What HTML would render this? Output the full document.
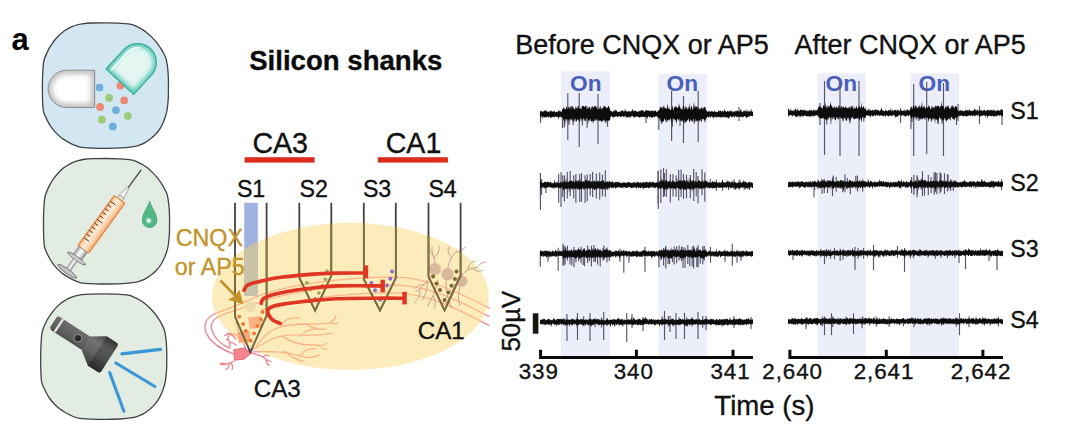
<!DOCTYPE html>
<html>
<head>
<meta charset="utf-8">
<title>Figure panel a</title>
<style>
  html, body { margin: 0; padding: 0; background: #ffffff; }
  body { width: 1080px; height: 437px; overflow: hidden; font-family: "Liberation Sans", sans-serif; }
  svg { display: block; }
  text { font-family: "Liberation Sans", sans-serif; fill: #111; stroke: #111; stroke-width: 0.35px; }
  .ttl { font-size: 27px; }
  .tick { font-size: 22.4px; letter-spacing: 0.9px; text-anchor: middle; }
  .slab { font-size: 23.2px; }
  .on { font-size: 22.7px; font-weight: bold; fill: #4a5ebc; stroke: none; }
  .shk { font-size: 22px; text-anchor: middle; }
  .gold { font-size: 23.3px; fill: #c4942c; stroke: #c4942c; }
</style>
</head>
<body>
<svg width="1080" height="437" viewBox="0 0 1080 437">
<defs>
  <linearGradient id="gWhite" x1="0" y1="0" x2="0" y2="1">
    <stop offset="0" stop-color="#bdbdbd"/>
    <stop offset="0.18" stop-color="#f4f4f4"/>
    <stop offset="0.5" stop-color="#ffffff"/>
    <stop offset="0.82" stop-color="#ececec"/>
    <stop offset="1" stop-color="#a9a9a9"/>
  </linearGradient>
  <radialGradient id="gWhiteEnd" cx="0.55" cy="0.5" r="0.6">
    <stop offset="0" stop-color="#ffffff"/>
    <stop offset="0.7" stop-color="#f1f1f1"/>
    <stop offset="1" stop-color="#b5b5b5"/>
  </radialGradient>
  <linearGradient id="gTeal" x1="0" y1="0" x2="1" y2="0">
    <stop offset="0" stop-color="#8fdccb"/>
    <stop offset="0.2" stop-color="#d9f3ee"/>
    <stop offset="0.55" stop-color="#e4f6f2"/>
    <stop offset="0.85" stop-color="#a5e2d5"/>
    <stop offset="1" stop-color="#45b9a3"/>
  </linearGradient>
  <linearGradient id="gBarrel" x1="0" y1="0" x2="1" y2="0">
    <stop offset="0" stop-color="#f3a868"/>
    <stop offset="0.14" stop-color="#f9cba0"/>
    <stop offset="0.36" stop-color="#fdecda"/>
    <stop offset="0.66" stop-color="#fbdabb"/>
    <stop offset="0.88" stop-color="#f7bc8a"/>
    <stop offset="1" stop-color="#f0a060"/>
  </linearGradient>
  <linearGradient id="gSilver" x1="0" y1="0" x2="1" y2="0">
    <stop offset="0" stop-color="#9c9c9c"/>
    <stop offset="0.4" stop-color="#ffffff"/>
    <stop offset="0.62" stop-color="#e6e6e6"/>
    <stop offset="1" stop-color="#8c8c8c"/>
  </linearGradient>
  <linearGradient id="gTorch" x1="0" y1="0" x2="0" y2="1">
    <stop offset="0" stop-color="#3d3d3d"/>
    <stop offset="0.3" stop-color="#6b6b6b"/>
    <stop offset="0.6" stop-color="#5c5c5c"/>
    <stop offset="1" stop-color="#2f2f2f"/>
  </linearGradient>
  <radialGradient id="gDrop" cx="0.45" cy="0.7" r="0.5">
    <stop offset="0" stop-color="#8fdcb4"/>
    <stop offset="0.35" stop-color="#4dba88"/>
    <stop offset="1" stop-color="#3fae7c"/>
  </radialGradient>
  <filter id="blur2" x="-20%" y="-20%" width="140%" height="140%"><feGaussianBlur stdDeviation="2"/></filter>
  <filter id="blurT" x="-2%" y="-30%" width="104%" height="160%"><feGaussianBlur stdDeviation="0.42"/></filter>
  <radialGradient id="gHi" cx="0.5" cy="0.5" r="0.5"><stop offset="0" stop-color="#ffffff" stop-opacity="1"/><stop offset="0.35" stop-color="#ffffff" stop-opacity="0.85"/><stop offset="1" stop-color="#ffffff" stop-opacity="0"/></radialGradient>
  <filter id="blur3" x="-20%" y="-20%" width="140%" height="140%"><feGaussianBlur stdDeviation="2.8"/></filter>
</defs>

<!-- ======= panel letter ======= -->
<text x="11.4" y="49.6" style="font-size:31px;font-weight:bold;fill:#000;stroke:none">a</text>

<!-- ======= icon boxes ======= -->
<g id="icons">
<path d="M92,23 C95.8,22.8 100.7,22.8 105,22.8 C109.3,22.8 113.8,22.9 118,23.1 C122.2,23.3 127.1,23.6 130,24.1 C132.9,24.6 133.7,25.2 135.5,25.9 C137.3,26.7 139.2,27.6 141,28.7 C142.8,29.8 144.7,30.9 146.5,32.4 C148.3,33.9 150.3,35.7 152,37.4 C153.7,39.1 155.1,40.7 156.5,42.4 C157.9,44.1 159,45.7 160.2,47.5 C161.3,49.3 162.4,51 163.4,53 C164.4,55 165.5,56.7 166.2,59.4 C166.9,62.1 167.4,65.7 167.8,69 C168.1,72.3 168.3,75.8 168.4,79 C168.5,82.2 168.5,84.8 168.4,88 C168.4,91.2 168.5,94.3 168.3,98 C168.1,101.7 167.5,107.1 167.1,110 C166.6,112.9 166.3,113.5 165.7,115.5 C165.1,117.5 164.3,119.8 163.4,121.9 C162.5,124 161.5,126.2 160.2,128.3 C158.9,130.4 157.2,132.6 155.6,134.3 C154,136.1 152.4,137.4 150.6,138.8 C148.8,140.2 146.5,141.9 144.6,142.9 C142.7,144 141,144.6 139.2,145.2 C137.4,145.8 136.6,146.1 133.7,146.6 C130.8,147.1 126.3,147.6 122,147.9 C117.7,148.2 112.8,148.3 108,148.3 C103.2,148.3 97.7,148.3 93,148.1 C88.3,147.9 83.5,147.8 80,147.1 C76.5,146.4 74.2,145.1 72,144.1 C69.8,143.1 68.3,142.2 66.5,141.1 C64.7,140 62.8,138.9 61,137.5 C59.3,136.1 57.6,134.6 56,132.9 C54.4,131.2 52.8,129.3 51.4,127.4 C50,125.5 48.9,123.4 47.8,121.4 C46.7,119.4 45.8,117.4 45,115.5 C44.2,113.6 43.6,112.9 43.2,110 C42.8,107.1 42.6,102.2 42.5,98 C42.4,93.8 42.4,89.3 42.4,85 C42.4,80.7 42.5,76.2 42.8,72 C43.1,67.8 43,63.9 44.1,60 C45.2,56.1 47.5,51.5 49.1,48.4 C50.8,45.3 52.2,43.6 53.7,41.5 C55.2,39.4 56.8,37.6 58.3,36 C59.8,34.4 61.4,33.1 62.9,31.9 C64.4,30.7 66,29.8 67.5,28.9 C69,28 70.5,27.2 72,26.6 C73.5,26 74.9,25.5 76.6,25 C78.3,24.5 79.4,24.1 82,23.8 C84.6,23.5 88.2,23.2 92,23Z" fill="#d3e7f3" stroke="#414243" stroke-width="1.3"/>
<path d="M93.1,158.7 C96.9,158.5 101.8,158.5 106.1,158.5 C110.4,158.5 114.9,158.6 119.1,158.8 C123.3,159 128.2,159.3 131.1,159.8 C134,160.3 134.8,160.9 136.6,161.6 C138.4,162.4 140.3,163.3 142.1,164.4 C143.9,165.5 145.8,166.6 147.6,168.1 C149.4,169.6 151.4,171.4 153.1,173.1 C154.8,174.8 156.2,176.4 157.6,178.1 C159,179.8 160.1,181.4 161.3,183.2 C162.4,185 163.5,186.7 164.5,188.7 C165.5,190.7 166.6,192.4 167.3,195.1 C168,197.8 168.5,201.4 168.8,204.7 C169.2,208 169.4,211.5 169.5,214.7 C169.6,217.9 169.6,220.5 169.5,223.7 C169.5,226.9 169.6,230 169.4,233.7 C169.2,237.4 168.6,242.8 168.2,245.7 C167.7,248.6 167.4,249.2 166.8,251.2 C166.2,253.2 165.4,255.5 164.5,257.6 C163.6,259.7 162.6,261.9 161.3,264 C160,266.1 158.3,268.2 156.7,270 C155.1,271.8 153.5,273.1 151.7,274.5 C149.9,275.9 147.6,277.6 145.7,278.6 C143.8,279.7 142.1,280.3 140.3,280.9 C138.5,281.5 137.7,281.8 134.8,282.3 C131.9,282.7 127.4,283.3 123.1,283.6 C118.8,283.9 113.9,284 109.1,284 C104.3,284 98.8,284 94.1,283.8 C89.4,283.6 84.6,283.5 81.1,282.8 C77.6,282.1 75.3,280.8 73.1,279.8 C70.8,278.8 69.4,277.9 67.6,276.8 C65.8,275.7 63.9,274.6 62.1,273.2 C60.4,271.8 58.7,270.3 57.1,268.6 C55.5,266.9 53.9,265 52.5,263.1 C51.1,261.2 50,259.1 48.9,257.1 C47.8,255.1 46.9,253.1 46.1,251.2 C45.3,249.3 44.7,248.6 44.3,245.7 C43.9,242.8 43.7,237.9 43.6,233.7 C43.5,229.5 43.5,225 43.5,220.7 C43.5,216.4 43.6,211.9 43.9,207.7 C44.2,203.5 44.1,199.6 45.2,195.7 C46.3,191.8 48.6,187.2 50.2,184.1 C51.9,181 53.3,179.3 54.8,177.2 C56.3,175.1 57.9,173.3 59.4,171.7 C60.9,170.1 62.5,168.8 64,167.6 C65.5,166.4 67.1,165.5 68.6,164.6 C70.1,163.7 71.6,162.9 73.1,162.3 C74.6,161.6 76,161.2 77.7,160.7 C79.4,160.2 80.5,159.8 83.1,159.5 C85.7,159.2 89.3,158.9 93.1,158.7Z" fill="#e3ece3" stroke="#414243" stroke-width="1.3"/>
<path d="M90.3,294.1 C94.1,293.9 99,293.9 103.3,293.9 C107.6,293.9 112.1,294 116.3,294.2 C120.5,294.4 125.4,294.7 128.3,295.2 C131.2,295.7 132,296.3 133.8,297.1 C135.6,297.8 137.5,298.7 139.3,299.8 C141.1,300.9 143,302.1 144.8,303.5 C146.6,304.9 148.6,306.8 150.3,308.5 C152,310.2 153.4,311.8 154.8,313.5 C156.2,315.2 157.3,316.8 158.5,318.6 C159.7,320.4 160.7,322.1 161.7,324.1 C162.7,326.1 163.8,327.8 164.5,330.5 C165.2,333.2 165.7,336.8 166.1,340.1 C166.4,343.4 166.6,346.9 166.7,350.1 C166.8,353.3 166.8,355.9 166.8,359.1 C166.7,362.3 166.8,365.4 166.6,369.1 C166.4,372.8 165.8,378.2 165.4,381.1 C164.9,384 164.6,384.6 164,386.6 C163.4,388.6 162.6,390.9 161.7,393 C160.8,395.1 159.8,397.3 158.5,399.4 C157.2,401.5 155.5,403.7 153.9,405.4 C152.3,407.2 150.7,408.5 148.9,409.9 C147.1,411.3 144.8,413 142.9,414.1 C141,415.1 139.3,415.7 137.5,416.3 C135.7,416.9 134.9,417.3 132,417.7 C129.1,418.2 124.6,418.7 120.3,419 C116,419.3 111.1,419.4 106.3,419.4 C101.5,419.4 96,419.4 91.3,419.2 C86.6,419 81.8,418.9 78.3,418.2 C74.8,417.5 72.5,416.2 70.3,415.2 C68,414.2 66.6,413.3 64.8,412.2 C63,411.1 61.1,410 59.3,408.6 C57.6,407.2 55.9,405.7 54.3,404 C52.7,402.3 51.1,400.4 49.7,398.5 C48.3,396.6 47.2,394.5 46.1,392.5 C45,390.5 44.1,388.5 43.3,386.6 C42.5,384.7 41.9,384 41.5,381.1 C41.1,378.2 40.9,373.3 40.8,369.1 C40.7,364.9 40.6,360.4 40.7,356.1 C40.7,351.8 40.8,347.3 41.1,343.1 C41.4,338.9 41.3,335 42.4,331.1 C43.5,327.2 45.8,322.6 47.4,319.5 C49,316.4 50.5,314.7 52,312.6 C53.5,310.5 55.1,308.7 56.6,307.1 C58.1,305.5 59.7,304.2 61.2,303 C62.7,301.8 64.3,300.9 65.8,300 C67.3,299.1 68.8,298.4 70.3,297.7 C71.8,297.1 73.2,296.6 74.9,296.1 C76.6,295.6 77.7,295.2 80.3,294.9 C82.9,294.6 86.5,294.3 90.3,294.1Z" fill="#e3ece3" stroke="#414243" stroke-width="1.3"/>
<circle cx="99.5" cy="87.6" r="3.9" fill="#6fb0de"/>
<circle cx="120.4" cy="85.5" r="3.9" fill="#ec8a74"/>
<circle cx="109" cy="98" r="3.9" fill="#9ccb7a"/>
<circle cx="124.2" cy="100.4" r="3.9" fill="#ec8a74"/>
<circle cx="100.1" cy="107" r="3.9" fill="#ec8a74"/>
<circle cx="115.9" cy="110.2" r="3.9" fill="#6fb0de"/>
<circle cx="127.8" cy="115.8" r="3.9" fill="#9ccb7a"/>
<circle cx="101.9" cy="119.7" r="3.9" fill="#9ccb7a"/>
<circle cx="112.9" cy="126.5" r="3.9" fill="#6fb0de"/>
<clipPath id="cpW"><path d="M94.7,70.2 H66.75 A18.65,18.65 0 0 0 66.75,107.5 H94.7 Z"/></clipPath>
<path d="M94.7,70.2 H66.75 A18.65,18.65 0 0 0 66.75,107.5 H94.7 Z" fill="#ffffff"/>
<g clip-path="url(#cpW)"><path d="M94.7,70.2 H66.75 A18.65,18.65 0 0 0 66.75,107.5 H94.7 Z" fill="none" stroke="#c2c2c2" stroke-width="8" filter="url(#blur3)"/></g>
<path d="M94.7,70.2 H66.75 A18.65,18.65 0 0 0 66.75,107.5 H94.7 Z" fill="none" stroke="#8c8c8c" stroke-width="1"/>
<g transform="translate(119.9,81.7) rotate(42.5)"><clipPath id="cpT"><path d="M-18.8,0 V-26.2 A18.8,18.8 0 0 1 18.8,-26.2 V0 Z"/></clipPath><path d="M-18.8,0 V-26.2 A18.8,18.8 0 0 1 18.8,-26.2 V0 Z" fill="#e3f6f2"/><g clip-path="url(#cpT)"><path d="M-18.8,0 V-26.2 A18.8,18.8 0 0 1 18.8,-26.2 V0 Z" fill="none" stroke="#5cc8b4" stroke-width="6.5" filter="url(#blur2)"/></g><path d="M-18.8,0 V-26.2 A18.8,18.8 0 0 1 18.8,-26.2 V0 Z" fill="none" stroke="#35ad97" stroke-width="1.2"/><path d="M-14.2,-3 V-27 A14.2,15 0 0 1 -8.5,-38.5" fill="none" stroke="#ffffff" stroke-width="1.7" opacity="0.8" stroke-linecap="round"/></g>
<g transform="translate(104.35,220.35) rotate(36.1)">
<path d="M0,-62.8 V-39" stroke="#4a4644" stroke-width="1.3" fill="none"/>
<path d="M-0.9,-40.5 L-2.8,-29.5 H2.8 L0.9,-40.5 Z" fill="#f4f4f4" stroke="#8d8d8d" stroke-width="0.7"/>
<path d="M-3,-29.6 h6 v3.8 h-6 z" fill="#e2e2e2" stroke="#8d8d8d" stroke-width="0.6"/>
<rect x="-6.6" y="-26" width="13.2" height="62" rx="1.2" fill="url(#gBarrel)" stroke="#e5823a" stroke-width="1.1"/>
<path d="M-6.2,-19 h6.2 M-6.2,-14.5 h4.2 M-6.2,-10 h4.2 M-6.2,-5.5 h4.2 M-6.2,-1 h4.2 M-6.2,3.5 h6.2 M-6.2,8 h4.2 M-6.2,12.5 h4.2 M-6.2,17 h4.2 M-6.2,21.5 h4.2 M-6.2,26 h6.2 " stroke="#2e2a28" stroke-width="0.85" fill="none"/>
<rect x="-5.2" y="36" width="10.4" height="9.6" fill="url(#gSilver)" stroke="#8a8a8a" stroke-width="0.7"/>
<ellipse cx="0" cy="47.2" rx="10.9" ry="1.9" fill="#cdcdcd" stroke="#777" stroke-width="0.9"/>
<rect x="-2.4" y="49" width="4.8" height="12.5" fill="url(#gSilver)" stroke="#8a8a8a" stroke-width="0.6"/>
<ellipse cx="0" cy="63" rx="11.4" ry="2.2" fill="#c4c4c4" stroke="#707070" stroke-width="0.9"/>
</g>
<path d="M149.6,201 C151.2,207.5 156.9,213.5 156.9,220.3 A7.3,7.3 0 0 1 142.3,220.3 C142.3,213.5 148,207.5 149.6,201 Z" fill="#52b986" stroke="#3fa277" stroke-width="0.8"/>
<circle cx="148.7" cy="220.6" r="3.4" fill="url(#gHi)"/>
<g transform="translate(54.15,322.1) rotate(32.8)">
<path d="M2,-7.4 H38 L52,-16.6 H63.3 Q66.3,-16.6 66.3,-13.6 V15.4 Q66.3,18.4 63.3,18.4 H52 L38,8.4 H2 Q-0.6,7.8 -0.6,5.4 V-4.8 Q-0.6,-7.4 2,-7.4 Z" fill="url(#gTorch)"/>
<path d="M52,-16.6 H63.3 Q66.3,-16.6 66.3,-13.6 V15.4 Q66.3,18.4 63.3,18.4 H52 Z" fill="#000" opacity="0.16"/>
<path d="M38,-7.4 L52,-16.6 V18.4 L38,8.4 Z" fill="#fff" opacity="0.05"/>
<rect x="4.7" y="-7.4" width="2.3" height="15.4" fill="#e6e6e6"/>
<circle cx="28.7" cy="0.7" r="3.7" fill="#2b2629" stroke="#9a9a9a" stroke-width="0.9"/>
</g>
<path d="M121.8,353.9 L160.5,349.4 M115.8,363 L154.9,386.5 M109.6,372.4 L123.9,411.3" stroke="#3b97d6" stroke-width="3.1" stroke-linecap="round" fill="none"/>

</g>

<!-- ======= schematic ======= -->
<g id="schematic">
<text x="249.2" y="69.7" style="font-size:27.6px;font-weight:bold;fill:#0b0b0b">Silicon shanks</text>
<text x="252.4" y="153.4" style="font-size:28.6px">CA3</text>
<text x="385.7" y="153.4" style="font-size:28.6px">CA1</text>
<rect x="244.6" y="157.2" width="70" height="5.4" fill="#dc2c1c"/>
<rect x="377.9" y="157.2" width="70" height="5.4" fill="#dc2c1c"/>
<text x="236.9" y="196.6" style="font-size:23.2px">S1</text>
<text x="299.6" y="196.6" style="font-size:23.2px">S2</text>
<text x="362.9" y="196.6" style="font-size:23.2px">S3</text>
<text x="428.4" y="196.6" style="font-size:23.2px">S4</text>
<clipPath id="cpE"><ellipse cx="350.5" cy="296.4" rx="138.5" ry="73.6"/></clipPath>
<ellipse cx="350.5" cy="296.4" rx="138.5" ry="73.6" fill="#fdecbb"/>
<path d="M234,354 C222,350 209,342 205.5,331 C203,321 210,314.5 222,311 C236,306.5 248,300 262,294.5 C290,285 340,277 396,277 C430,278 462,294 489,308 M230,348.5 C222,345 214,338 211.5,329 C210,321 216,316.5 226,313.5 C240,309 254,304 268,299.5 C300,290 345,285 396,285 C430,286 462,302 489,316.5 M262,310 C300,298 350,292.5 396,293 C430,294 462,311 489,325.5 M224.7,335.7 c3,-3 6,-3 9,-1 m-6,-1.5 c1,3 1,5 -1,7 m3,-6 c3,1 5,3 6,5 M229,347 c2,-3 1,-6 -1,-8 m1,4 c3,-1 5,0 7,2 M234,361 C230,363 226,365 221,364.5 M229,363.5 c0,3 -1,5 -3,6 M226,364.8 c-2,-2 -4,-2 -6,-1 M231,362.6 c2,3 2,5 1,7 M251,353 C256,354.5 260,355 263,357 C266,359 268,361 271,361.5 M263,357 c2,-2 4,-2 6,-1 M266,359 c0,3 1,5 3,6.5 M252,350 C262,345 270,338 282,336 C296,333 312,338 332,333 M282,336 C290,342 300,346 318,345 M300,336 C306,330 314,328 322,329 M318,345 c4,1 7,0 9,-2 M318,345 c3,3 6,4 9,4 M252,352 C268,351 284,351 300,356 C308,358.5 314,358 319,355 M284,351 C290,356 296,360 304,361.5 M300,356 C304,350 310,348 316,349 M256,347 C262,338 268,331 280,327 C292,323 310,325 330,323 M280,327 C284,319 292,317 300,318 M306,324 C312,328 318,330 326,329 M330,323 c3,-2 5,-4 6,-7 M330,323 c3,1 6,1 8,0 M246,349 C242,340 238,332 236,322 M241,338 c-3,-3 -6,-4 -9,-4 " fill="none" stroke="#f0808c" stroke-width="1.25" stroke-linecap="round"/>
<g clip-path="url(#cpE)"><path d="M234,354 C222,350 209,342 205.5,331 C203,321 210,314.5 222,311 C236,306.5 248,300 262,294.5 C290,285 340,277 396,277 C430,278 462,294 489,308 M230,348.5 C222,345 214,338 211.5,329 C210,321 216,316.5 226,313.5 C240,309 254,304 268,299.5 C300,290 345,285 396,285 C430,286 462,302 489,316.5 M262,310 C300,298 350,292.5 396,293 C430,294 462,311 489,325.5 M224.7,335.7 c3,-3 6,-3 9,-1 m-6,-1.5 c1,3 1,5 -1,7 m3,-6 c3,1 5,3 6,5 M229,347 c2,-3 1,-6 -1,-8 m1,4 c3,-1 5,0 7,2 M234,361 C230,363 226,365 221,364.5 M229,363.5 c0,3 -1,5 -3,6 M226,364.8 c-2,-2 -4,-2 -6,-1 M231,362.6 c2,3 2,5 1,7 M251,353 C256,354.5 260,355 263,357 C266,359 268,361 271,361.5 M263,357 c2,-2 4,-2 6,-1 M266,359 c0,3 1,5 3,6.5 M252,350 C262,345 270,338 282,336 C296,333 312,338 332,333 M282,336 C290,342 300,346 318,345 M300,336 C306,330 314,328 322,329 M318,345 c4,1 7,0 9,-2 M318,345 c3,3 6,4 9,4 M252,352 C268,351 284,351 300,356 C308,358.5 314,358 319,355 M284,351 C290,356 296,360 304,361.5 M300,356 C304,350 310,348 316,349 M256,347 C262,338 268,331 280,327 C292,323 310,325 330,323 M280,327 C284,319 292,317 300,318 M306,324 C312,328 318,330 326,329 M330,323 c3,-2 5,-4 6,-7 M330,323 c3,1 6,1 8,0 M246,349 C242,340 238,332 236,322 M241,338 c-3,-3 -6,-4 -9,-4 " fill="none" stroke="#fdecbb" stroke-width="1.9" stroke-linecap="round"/><path d="M234,354 C222,350 209,342 205.5,331 C203,321 210,314.5 222,311 C236,306.5 248,300 262,294.5 C290,285 340,277 396,277 C430,278 462,294 489,308 M230,348.5 C222,345 214,338 211.5,329 C210,321 216,316.5 226,313.5 C240,309 254,304 268,299.5 C300,290 345,285 396,285 C430,286 462,302 489,316.5 M262,310 C300,298 350,292.5 396,293 C430,294 462,311 489,325.5 M224.7,335.7 c3,-3 6,-3 9,-1 m-6,-1.5 c1,3 1,5 -1,7 m3,-6 c3,1 5,3 6,5 M229,347 c2,-3 1,-6 -1,-8 m1,4 c3,-1 5,0 7,2 M234,361 C230,363 226,365 221,364.5 M229,363.5 c0,3 -1,5 -3,6 M226,364.8 c-2,-2 -4,-2 -6,-1 M231,362.6 c2,3 2,5 1,7 M251,353 C256,354.5 260,355 263,357 C266,359 268,361 271,361.5 M263,357 c2,-2 4,-2 6,-1 M266,359 c0,3 1,5 3,6.5 M252,350 C262,345 270,338 282,336 C296,333 312,338 332,333 M282,336 C290,342 300,346 318,345 M300,336 C306,330 314,328 322,329 M318,345 c4,1 7,0 9,-2 M318,345 c3,3 6,4 9,4 M252,352 C268,351 284,351 300,356 C308,358.5 314,358 319,355 M284,351 C290,356 296,360 304,361.5 M300,356 C304,350 310,348 316,349 M256,347 C262,338 268,331 280,327 C292,323 310,325 330,323 M280,327 C284,319 292,317 300,318 M306,324 C312,328 318,330 326,329 M330,323 c3,-2 5,-4 6,-7 M330,323 c3,1 6,1 8,0 M246,349 C242,340 238,332 236,322 M241,338 c-3,-3 -6,-4 -9,-4 " fill="none" stroke="#f8ae80" stroke-width="1.05" stroke-linecap="round"/></g>
<rect x="244.2" y="202.8" width="13.6" height="93" fill="#a0b2e2"/>
<g clip-path="url(#cpE)"><rect x="244.2" y="202.8" width="13.6" height="93" fill="#c9c2a6"/></g>
<circle cx="250.6" cy="306.3" r="5.8" fill="#ecdcae"/>
<rect x="248.8" y="316.6" width="12.6" height="11.6" fill="#f9b284" transform="rotate(-8 255 322)"/>
<rect x="238" y="331.3" width="12" height="11" fill="#f8a878" transform="rotate(-6 244 337)"/>
<circle cx="239.2" cy="316.6" r="1.9" fill="#f0782e"/>
<circle cx="243.1" cy="324" r="1.9" fill="#f0782e"/>
<circle cx="262.6" cy="312" r="1.9" fill="#f0782e"/>
<circle cx="261" cy="319.4" r="1.9" fill="#f0782e"/>
<circle cx="257.3" cy="325.8" r="1.9" fill="#f0782e"/>
<circle cx="245.8" cy="330.8" r="1.9" fill="#f0782e"/>
<circle cx="254.1" cy="333.4" r="1.9" fill="#f0782e"/>
<circle cx="250.6" cy="340.7" r="1.9" fill="#f0782e"/>
<path d="M233.9,349.8 L244.2,348 L251.3,352.8 L244.4,359 L234.4,360.2 Z" fill="#f5848e" stroke="#ea6474" stroke-width="1" stroke-linejoin="round"/>
<path d="M435,263 C434,256 431,252 432,247 M433,255 C429,252 428,249 428,246 M434,258 C438,254 440,250 439,246 M448,268 C449,260 452,256 456,252 M452,258 C448,254 447,250 449,247 M456,252 C460,252 463,250 465,247 M462,275 C466,270 470,268 476,268 M468,270 C468,265 471,262 475,261 M472,268 C476,272 480,272 483,270 M476,268 C480,264 482,262 486,262 M432,275 C426,282 422,288 416,292 M424,285 C420,284 417,286 414,289 M427,281 C428,288 426,294 422,300 M420,290 C420,296 418,300 414,303 M438,280 C436,290 432,298 428,306 M433,296 C436,300 436,304 434,308 M446,281 C446,292 448,300 452,308 M448,296 C444,300 442,304 442,308 M460,287 C458,294 458,300 460,306 M455,284 C452,292 450,298 446,304" fill="none" stroke="#c9a08e" stroke-width="1" stroke-linecap="round"/>
<circle cx="434.8" cy="269.1" r="6.2" fill="#dab89c"/>
<circle cx="447.6" cy="274.3" r="6.2" fill="#dab89c"/>
<circle cx="461.8" cy="281.2" r="5.7" fill="#dab89c"/>
<path d="M235,202.8 V316.6 L250.3,352.2 L266.6,315.5 V202.8 M299.3,202.8 V277.6 L315.1,310.6 L331.3,275.6 V202.8 M363.8,202.8 V279.2 L380,310.5 L395.8,278 V202.8 M428.5,202.8 V276.6 L444.6,310.4 L460.6,275.5 V202.8" fill="none" stroke="#46423f" stroke-width="1.8" stroke-linejoin="miter"/>
<g clip-path="url(#cpE)"><path d="M235,202.8 V316.6 L250.3,352.2 L266.6,315.5 V202.8 M299.3,202.8 V277.6 L315.1,310.6 L331.3,275.6 V202.8 M363.8,202.8 V279.2 L380,310.5 L395.8,278 V202.8 M428.5,202.8 V276.6 L444.6,310.4 L460.6,275.5 V202.8" fill="none" stroke="#83733a" stroke-width="1.6"/></g>
<circle cx="327" cy="271" r="1.8" fill="#a0a556"/>
<circle cx="325.4" cy="279.3" r="1.8" fill="#a0a556"/>
<circle cx="306.9" cy="282.8" r="1.8" fill="#a0a556"/>
<circle cx="322.3" cy="285.9" r="1.8" fill="#a0a556"/>
<circle cx="310.6" cy="289.6" r="1.8" fill="#a0a556"/>
<circle cx="318.8" cy="293.1" r="1.8" fill="#a0a556"/>
<circle cx="315.1" cy="298.6" r="1.8" fill="#a0a556"/>
<circle cx="392" cy="271.6" r="2" fill="#8f6fce"/>
<circle cx="390.3" cy="278.7" r="2" fill="#8f6fce"/>
<circle cx="371.4" cy="283" r="2" fill="#8f6fce"/>
<circle cx="387" cy="285.6" r="2" fill="#8f6fce"/>
<circle cx="375" cy="290.2" r="2" fill="#8f6fce"/>
<circle cx="380" cy="299.8" r="2" fill="#8f6fce"/>
<circle cx="456.5" cy="271.4" r="2" fill="#7d6a2a"/>
<circle cx="433.2" cy="276.6" r="2" fill="#7d6a2a"/>
<circle cx="454.9" cy="278.9" r="2" fill="#7d6a2a"/>
<circle cx="436.6" cy="283.5" r="2" fill="#7d6a2a"/>
<circle cx="451.5" cy="285.8" r="2" fill="#7d6a2a"/>
<circle cx="440" cy="289.9" r="2" fill="#7d6a2a"/>
<circle cx="448.5" cy="292.6" r="2" fill="#7d6a2a"/>
<circle cx="444.6" cy="300" r="2" fill="#7d6a2a"/>
<path d="M244,290.3 C244.5,289.5 245.3,286.8 247,285.5 C248.7,284.2 251.2,283.6 254,282.8 C256.8,282 260.4,281.3 264,280.5 C267.6,279.7 270.2,278.8 275.6,278 C281,277.2 289.3,276.3 296.2,275.6 C303.1,274.9 309.9,274.3 316.8,273.9 C323.7,273.5 329.1,273.2 337.3,273.1 C345.5,273 361.2,273 366,273 M261.2,303.4 C261.4,302.8 261.6,301 262.3,300 C263,299 263.3,298.4 265.5,297.4 C267.7,296.4 270.5,295.3 275.6,294.1 C280.7,292.9 289.3,291.1 296.2,290 C303.1,288.9 309.9,288.2 316.8,287.5 C323.7,286.8 330.1,286.2 337.3,285.9 C344.5,285.6 352.5,285.8 360,285.8 C367.5,285.8 378.8,285.9 382.5,285.9 M280.1,323.3 C278.8,322.7 274.6,321.6 272.5,319.8 C270.4,318 268.2,314.7 267.8,312.6 C267.4,310.6 268.1,308.9 270.4,307.5 C272.7,306.1 275.8,305.4 281.8,304.4 C287.8,303.4 297.2,302.2 306.5,301.3 C315.8,300.4 325.9,299.3 337.3,298.8 C348.7,298.3 363.9,298.3 375,298.2 C386.1,298.1 399.2,298.2 404,298.2" fill="none" stroke="#e03522" stroke-width="3.6" stroke-linecap="round"/>
<rect x="364" y="265.4" width="4.2" height="13" fill="#e03522"/>
<rect x="380.5" y="279.7" width="4.4" height="12.6" fill="#e03522"/>
<rect x="402.3" y="291.8" width="4.5" height="12.6" fill="#e03522"/>
<text x="175.7" y="245.9" class="gold">CNQX</text>
<text x="174.8" y="274.5" class="gold">or AP5</text>
<path d="M220.5,280.5 L236,296.5" stroke="#c4942c" stroke-width="2.6" fill="none"/>
<path d="M243.3,304.2 L227.8,299.8 L234.6,296 L239.6,290 Z" fill="#c4942c"/>
<text x="417.7" y="339.4" style="font-size:24.2px">CA1</text>
<text x="253.7" y="396.9" style="font-size:24.2px">CA3</text>

</g>

<!-- ======= recordings ======= -->
<g id="rec">
  <text class="ttl" x="515.2" y="54.4">Before CNQX or AP5</text>
  <text class="ttl" x="794.6" y="54.4">After CNQX or AP5</text>

  <!-- light-on shading -->
  <rect x="561" y="71.4" width="49" height="284.6" fill="#eceffa"/>
  <rect x="658.6" y="74" width="48.8" height="282" fill="#eceffa"/>
  <rect x="817.3" y="73.3" width="48.4" height="282.7" fill="#eceffa"/>
  <rect x="910.1" y="73.3" width="48.8" height="282.7" fill="#eceffa"/>

  <text class="on" x="570" y="91">On</text>
  <text class="on" x="666.5" y="91">On</text>
  <text class="on" x="825.5" y="91">On</text>
  <text class="on" x="918.5" y="91">On</text>

<g filter="url(#blurT)">
<path d="M567.8,93 V140 M579.2,93 V147 M598,94 V144 M671.6,91 V141 M683.5,96 V143 M698.2,91 V142 M564.3,107.8 V127.4 M569.1,108 V124.7 M573.1,108 V125 M579.6,109.6 V122.4 M582.4,106.8 V125.5 M587.1,106.1 V127.7 M593.6,107.5 V121.3 M596.6,107.9 V120.5 M601.9,109 V120.2 M607.5,108.2 V126.7 M661.5,107.4 V124 M666.7,108.2 V122.2 M672.4,106 V126.7 M676.4,108.7 V121.8 M680,109.7 V126.1 M685.1,106.6 V123.1 M691.5,106.6 V120 M694.2,106.4 V123.8 M701.2,108.4 V120.6 M705,106.9 V122.2 M540.5,111 V123 M646,111 V123 M658.8,110 V130 M562.5,110 V128 M739,107 V121 " stroke="#56566a" stroke-width="1.15" fill="none"/>
<path d="M540,112 540.5,111.2 541,112.1 541.5,110.6 542,111.8 542.5,112.3 543,110.6 543.5,111.4 544,111.9 544.5,110.5 545,110.1 545.5,110.7 546,110.5 546.5,110.4 547,112.3 547.5,112 548,111.5 548.5,111.2 549,112.3 549.5,111.5 550,110.6 550.5,111.2 551,111.7 551.5,110.6 552,110.5 552.5,112.2 553,111.2 553.5,111.1 554,112.3 554.5,110.4 555,111.8 555.5,112.3 556,112.1 556.5,112 557,110.7 557.5,112.3 558,112.1 558.5,109.2 559,112 559.5,110.8 560,110.6 560.5,111.5 561,112.2 561.5,111.7 562,110.7 562.5,108.9 563,108.7 563.5,106.9 564,109.4 564.5,109.9 565,108.8 565.5,109.4 566,108.7 566.5,105.8 567,108 567.5,110 568,106.6 568.5,108.7 569,105.6 569.5,109.9 570,106.5 570.5,106.5 571,110 571.5,105.8 572,106.3 572.5,107.3 573,105.5 573.5,109.2 574,108.5 574.5,109.1 575,110.2 575.5,107.4 576,105.8 576.5,109.3 577,107 577.5,108.8 578,105.5 578.5,105.7 579,108.8 579.5,108.7 580,109.2 580.5,107.6 581,108.9 581.5,109.6 582,105.7 582.5,106.3 583,105.8 583.5,105.9 584,106.4 584.5,107 585,106.8 585.5,105.6 586,106.2 586.5,109.1 587,107.5 587.5,109.8 588,108.4 588.5,107.8 589,107 589.5,108 590,105.9 590.5,110.1 591,109.6 591.5,106.9 592,106.7 592.5,105.6 593,109.3 593.5,107 594,106.9 594.5,106.4 595,105.6 595.5,107.1 596,105.6 596.5,109.6 597,105.6 597.5,109.8 598,110.4 598.5,107.3 599,109 599.5,109.1 600,105.6 600.5,106.6 601,109.8 601.5,107.7 602,109.7 602.5,107.9 603,108.2 603.5,106.5 604,105.2 604.5,107.4 605,105.5 605.5,106.7 606,107.3 606.5,108.4 607,107.5 607.5,107.9 608,107.3 608.5,105.7 609,106.3 609.5,108.2 610,109.1 610.5,111.2 611,110.9 611.5,110.8 612,111.9 612.5,112.2 613,111.2 613.5,110.7 614,111.8 614.5,110.4 615,108.8 615.5,110.9 616,110.6 616.5,110.2 617,111 617.5,112 618,111.8 618.5,112.1 619,111.9 619.5,111.9 620,110.2 620.5,112.1 621,111.2 621.5,110.5 622,110.7 622.5,110.1 623,111.6 623.5,111.5 624,110.3 624.5,112.2 625,108.3 625.5,110.5 626,112.1 626.5,110.8 627,110.9 627.5,112.2 628,111 628.5,111.6 629,111.4 629.5,110.7 630,112 630.5,112.2 631,110 631.5,111.4 632,110.4 632.5,108.5 633,110.7 633.5,110.5 634,111.8 634.5,110.6 635,110.9 635.5,110.5 636,110.5 636.5,111.2 637,112.3 637.5,111.7 638,111.2 638.5,111.6 639,111.3 639.5,110.5 640,112 640.5,110.6 641,110.2 641.5,110.1 642,110.8 642.5,109.9 643,111.1 643.5,110.9 644,110.4 644.5,112.3 645,111.7 645.5,110.3 646,110.2 646.5,110.1 647,110.6 647.5,110.4 648,110.4 648.5,110.8 649,110.4 649.5,111.1 650,110.5 650.5,111.7 651,111.1 651.5,110.1 652,111.4 652.5,110.3 653,111.3 653.5,111.3 654,110.1 654.5,111.8 655,110.1 655.5,110.8 656,110.7 656.5,112.1 657,112.3 657.5,111.5 658,111 658.5,111.6 659,109.9 659.5,110 660,106.1 660.5,108.4 661,105.9 661.5,108.5 662,108.3 662.5,107.9 663,106.6 663.5,105.5 664,109 664.5,106.2 665,108.3 665.5,107.4 666,109.6 666.5,109 667,108.7 667.5,102.7 668,107 668.5,108.8 669,109.7 669.5,106.9 670,109.4 670.5,110.3 671,110 671.5,108.7 672,108.7 672.5,107 673,109.9 673.5,110.2 674,107.2 674.5,107.8 675,106.4 675.5,106.1 676,107.8 676.5,105.9 677,107.9 677.5,107.7 678,108 678.5,107.1 679,102.5 679.5,107 680,106 680.5,108.7 681,108.5 681.5,109 682,110.3 682.5,108.5 683,106.5 683.5,105 684,107.9 684.5,109.8 685,109 685.5,106.4 686,109.2 686.5,106.5 687,108.7 687.5,110.1 688,106.3 688.5,107.8 689,109.5 689.5,102.6 690,108.5 690.5,109.9 691,106.5 691.5,106.5 692,107.7 692.5,109.6 693,110 693.5,106.4 694,101.6 694.5,107.2 695,108.4 695.5,105.9 696,106.5 696.5,107.5 697,105.7 697.5,107.1 698,109.8 698.5,107.2 699,110.3 699.5,108.3 700,108.8 700.5,108.3 701,109.4 701.5,107.6 702,106.8 702.5,108.6 703,109.7 703.5,107.7 704,107.5 704.5,107.3 705,106.7 705.5,109.7 706,109.5 706.5,110.6 707,111.6 707.5,111.9 708,111 708.5,112.2 709,110.2 709.5,110.9 710,112.1 710.5,111.5 711,111.8 711.5,110.6 712,111.7 712.5,111.2 713,111.4 713.5,112.1 714,111.9 714.5,110.3 715,111.4 715.5,111.9 716,111.5 716.5,112.2 717,112 717.5,112.3 718,111.5 718.5,110.9 719,110.2 719.5,111.4 720,111 720.5,110.6 721,110.6 721.5,112.3 722,111.1 722.5,110.9 723,110.5 723.5,111.9 724,111.6 724.5,108.3 725,110.9 725.5,111.1 726,112 726.5,111.7 727,111.7 727.5,110.4 728,111.6 728.5,111.4 729,111.6 729.5,111 730,110.2 730.5,111 731,112.2 731.5,110.7 732,110.1 732.5,112.3 733,112.3 733.5,111.2 734,111.9 734.5,110.3 735,112.3 735.5,110.2 736,112.2 736.5,110.2 737,111.2 737.5,110.4 738,110.8 738.5,111 739,112.2 739.5,111.4 740,110.9 740.5,110.1 741,108.7 741.5,111 742,112.2 742.5,112.1 743,111.8 743.5,110.6 744,111.7 744.5,110.4 745,111 745.5,111.5 746,108.7 746.5,111.7 747,111.5 747.5,111.6 748,109.4 748.5,112.2 749,110.7 749.5,111.5 750,111.2 750.5,112.2 751,108.3 751.5,110.2 752,111.9 752.5,111.8 753,111.1 753,116.7 752.5,116.1 752,116.3 751.5,115.7 751,115.8 750.5,115.7 750,115.9 749.5,116.2 749,117.3 748.5,116.8 748,116.3 747.5,117 747,116.9 746.5,118.4 746,117.6 745.5,116.1 745,117 744.5,115.8 744,116.6 743.5,116.8 743,117.8 742.5,117.2 742,115.9 741.5,117.4 741,116.3 740.5,117.4 740,116.5 739.5,117.2 739,116.7 738.5,116.2 738,116.8 737.5,116.7 737,116.7 736.5,117.5 736,116.6 735.5,116.6 735,115.9 734.5,118.2 734,116.1 733.5,116.5 733,116.8 732.5,117.4 732,115.7 731.5,117.4 731,117.8 730.5,115.9 730,116.1 729.5,117.1 729,119.3 728.5,118 728,117.7 727.5,117.8 727,116.7 726.5,117.3 726,117.8 725.5,116.9 725,117.5 724.5,117 724,116.8 723.5,117.7 723,115.7 722.5,117.6 722,117.1 721.5,117.7 721,116.9 720.5,117.4 720,117.6 719.5,117 719,116.9 718.5,116.5 718,117.9 717.5,116.8 717,116 716.5,117.7 716,117.6 715.5,116.8 715,116.6 714.5,117 714,117.5 713.5,118.7 713,116.3 712.5,117.6 712,117.1 711.5,116.5 711,115.7 710.5,117.7 710,117.7 709.5,116.2 709,117.1 708.5,117.5 708,117 707.5,116.7 707,116.9 706.5,119 706,118.1 705.5,120.3 705,119.5 704.5,120.4 704,120.4 703.5,118.6 703,118.9 702.5,119 702,119.3 701.5,121.8 701,121.7 700.5,118.5 700,120.3 699.5,120.6 699,122.4 698.5,120 698,120.8 697.5,120.3 697,121.2 696.5,120.2 696,122.3 695.5,120.9 695,117.7 694.5,121.3 694,122.3 693.5,119.1 693,118.5 692.5,122.8 692,120.5 691.5,121.2 691,119.9 690.5,119.3 690,121.8 689.5,122.5 689,120.8 688.5,117.9 688,119.8 687.5,119.8 687,120.9 686.5,122.2 686,120.4 685.5,121.7 685,122.5 684.5,118.3 684,125.4 683.5,120.6 683,120.6 682.5,120.4 682,122.3 681.5,120.9 681,119.8 680.5,122 680,118.7 679.5,118.4 679,121 678.5,120.3 678,119.6 677.5,118.9 677,118.5 676.5,124.8 676,120.4 675.5,119.6 675,120.8 674.5,119.2 674,118.8 673.5,118.3 673,122.3 672.5,117.8 672,118.3 671.5,124.6 671,118.7 670.5,117.7 670,120.4 669.5,120.4 669,118.9 668.5,120.1 668,120.8 667.5,120.3 667,120.6 666.5,118.7 666,119.7 665.5,122.4 665,118.3 664.5,118.8 664,120.3 663.5,120.9 663,122.5 662.5,122.1 662,122 661.5,122.1 661,118.2 660.5,120.9 660,121.5 659.5,118.1 659,117.6 658.5,117.8 658,117.9 657.5,117.3 657,116.2 656.5,115.9 656,116.8 655.5,116.6 655,116.2 654.5,117.6 654,116.6 653.5,116.4 653,117.4 652.5,117.7 652,117.8 651.5,117.3 651,117.8 650.5,116.3 650,117.8 649.5,116.9 649,117.3 648.5,115.7 648,116.7 647.5,119.5 647,116.8 646.5,116.2 646,117.4 645.5,116.6 645,117.7 644.5,116.5 644,117.1 643.5,116.8 643,116.2 642.5,117.3 642,116.9 641.5,116.8 641,117.1 640.5,117.2 640,116.8 639.5,117.7 639,117.7 638.5,116.4 638,116.8 637.5,116.4 637,117.5 636.5,115.9 636,116.3 635.5,117.2 635,116.7 634.5,117.8 634,116.9 633.5,117.6 633,116.4 632.5,115.8 632,115.7 631.5,115.9 631,117.9 630.5,115.9 630,117.7 629.5,117.3 629,117.1 628.5,116.6 628,116.9 627.5,117.8 627,117.8 626.5,117.6 626,115.7 625.5,115.7 625,117.7 624.5,116.5 624,115.7 623.5,117.6 623,116.5 622.5,115.8 622,116.4 621.5,116.7 621,116.5 620.5,117.2 620,117 619.5,115.7 619,115.8 618.5,116.5 618,117.3 617.5,117.3 617,116.2 616.5,116.6 616,116.1 615.5,116.4 615,117.5 614.5,116.4 614,116.9 613.5,117.5 613,117.3 612.5,117.5 612,116.1 611.5,116.6 611,115.7 610.5,117.3 610,120.1 609.5,120.5 609,120.6 608.5,121.5 608,119.6 607.5,121.3 607,121.3 606.5,119.7 606,124 605.5,122.5 605,119.9 604.5,122 604,118.6 603.5,121 603,119.9 602.5,122.6 602,120.1 601.5,122.4 601,121.6 600.5,120.5 600,120.3 599.5,121 599,120.3 598.5,120.6 598,121.3 597.5,119.1 597,118.2 596.5,119.2 596,119.5 595.5,121.1 595,118.3 594.5,120.7 594,121.2 593.5,121.2 593,124.3 592.5,120.5 592,120.6 591.5,121.8 591,121.4 590.5,118 590,122.2 589.5,118.7 589,121.3 588.5,120.1 588,124.7 587.5,118.9 587,117.9 586.5,117.8 586,119.9 585.5,121.6 585,120.9 584.5,118.5 584,122.1 583.5,117.8 583,119.1 582.5,119.2 582,118.5 581.5,120.1 581,121.6 580.5,118 580,117.7 579.5,120.3 579,121.8 578.5,119.6 578,119.8 577.5,118.8 577,120.9 576.5,120.7 576,122.4 575.5,119.9 575,117.7 574.5,120 574,122.4 573.5,121.3 573,119.7 572.5,122 572,117.7 571.5,119.9 571,119 570.5,119.5 570,121.7 569.5,117.8 569,122 568.5,119.1 568,120.6 567.5,118.5 567,122.5 566.5,119.3 566,118.7 565.5,119.3 565,126.7 564.5,120.9 564,121 563.5,120.1 563,117.7 562.5,116.4 562,118.1 561.5,117.6 561,116.3 560.5,116.9 560,116.8 559.5,116.9 559,117.3 558.5,119.6 558,117.7 557.5,116.5 557,116.7 556.5,116.8 556,117.1 555.5,115.7 555,117.5 554.5,117.4 554,116.2 553.5,117.1 553,116.7 552.5,117.6 552,116.8 551.5,117.5 551,118.6 550.5,117.8 550,116.9 549.5,116 549,117.2 548.5,118.1 548,116.6 547.5,116.9 547,116.2 546.5,117.6 546,117.2 545.5,117.3 545,117.6 544.5,116.9 544,118.3 543.5,116.8 543,116.6 542.5,116.9 542,120 541.5,115.7 541,115.7 540.5,116.7 540,117.6Z" fill="#080808"/>
<path d="M558.7,173.7 V202.7 M562.7,175.2 V197 M564.4,175.6 V201.4 M567.3,172.1 V198.6 M570.2,170.9 V196 M573.8,175.2 V198.4 M575.9,174.1 V202.8 M579.7,173.9 V202.1 M581.5,173.2 V201.8 M585.1,175.3 V202.9 M587.2,174.2 V201.2 M590.2,173.9 V195.6 M592.6,171.9 V196.9 M596.3,173.4 V198.6 M599.7,172.6 V199.6 M602.4,174.7 V196.2 M605.3,170.3 V197 M657.9,170.8 V203.5 M660.8,169.3 V202.9 M664.4,173 V195.9 M666.3,169.3 V197.1 M670.3,174.2 V202.4 M673,173.9 V196.6 M676.1,175.5 V197.1 M678.7,170 V200.5 M681.1,169.6 V196.8 M683.5,174.1 V199 M686.5,174.8 V198.3 M690.3,175.1 V198.3 M693.7,169.1 V200.9 M696.2,171.9 V196.3 M698,175.9 V203.2 M702,169.3 V195.2 M704.8,172.6 V201.6 M540.4,173 V210 M541.6,179 V195 M546,182 V193 M561,172 V207 M658.3,171 V209 M663.5,168 V197 M710.2,179 V188.2 M716.4,179.8 V190.7 M722.5,179.9 V190.4 M728.6,180.9 V190.1 M734.1,179.4 V189.3 M739.2,179.4 V189.7 M744.2,180.9 V189.7 M749.6,181.8 V189.9 " stroke="#56566a" stroke-width="1.15" fill="none"/>
<path d="M540,179.3 540.5,181.7 541,182.2 541.5,182.6 542,181.5 542.5,183.4 543,182.7 543.5,183 544,182.4 544.5,181.6 545,181.9 545.5,181.4 546,182.5 546.5,182.4 547,181.6 547.5,181.9 548,182 548.5,181.5 549,182.4 549.5,182.8 550,182.2 550.5,181.6 551,182.1 551.5,183.2 552,183 552.5,183.4 553,182.3 553.5,183.4 554,183.1 554.5,179.2 555,182.2 555.5,183.4 556,181.6 556.5,182.5 557,183.2 557.5,182.2 558,181.4 558.5,183.4 559,183.4 559.5,182.4 560,183 560.5,182.1 561,181.1 561.5,182.6 562,183.3 562.5,182 563,182.4 563.5,181.5 564,181.5 564.5,180.4 565,181 565.5,182.7 566,177.4 566.5,181.6 567,182.6 567.5,182.6 568,181.6 568.5,182.4 569,180.9 569.5,180.8 570,181.7 570.5,181.2 571,180 571.5,181.3 572,180 572.5,181.7 573,182.6 573.5,180.9 574,180.8 574.5,182.5 575,182.5 575.5,180.1 576,179.8 576.5,181.5 577,182.3 577.5,180.7 578,179.9 578.5,180.5 579,181.6 579.5,182.8 580,178.4 580.5,180.6 581,182.5 581.5,180.6 582,182.4 582.5,181.1 583,182.6 583.5,180.8 584,181.8 584.5,182.6 585,180.4 585.5,180.2 586,179.2 586.5,179.9 587,181.5 587.5,181.3 588,180.3 588.5,180.8 589,180.9 589.5,180.4 590,181.4 590.5,182.5 591,181.8 591.5,181.5 592,181.5 592.5,182.5 593,181.7 593.5,180.4 594,181.8 594.5,180.7 595,180.2 595.5,181.9 596,181.6 596.5,181.4 597,182.4 597.5,180 598,181.2 598.5,181.9 599,180 599.5,182 600,182.1 600.5,181.7 601,180.2 601.5,181.2 602,181 602.5,181.4 603,181 603.5,179.8 604,181.2 604.5,182.4 605,182.6 605.5,182.5 606,180.8 606.5,182.7 607,181.1 607.5,182.2 608,180.8 608.5,182.4 609,182.6 609.5,180.7 610,181 610.5,182.1 611,182.6 611.5,181.8 612,181.9 612.5,180.2 613,183 613.5,182.1 614,183.4 614.5,182.2 615,182.1 615.5,181.4 616,183 616.5,181.6 617,181.9 617.5,182 618,182.8 618.5,181.5 619,181.8 619.5,182.5 620,183.1 620.5,183.1 621,182.2 621.5,182.8 622,183.4 622.5,182.8 623,182.5 623.5,182.2 624,182.7 624.5,182.1 625,183.1 625.5,183 626,182 626.5,183.3 627,182.6 627.5,182.5 628,182.3 628.5,182 629,182.4 629.5,181.8 630,183 630.5,183.2 631,182.1 631.5,183.3 632,182.8 632.5,182.7 633,183.2 633.5,182.1 634,181.4 634.5,183.4 635,181.6 635.5,182.5 636,183.4 636.5,182 637,182.9 637.5,181.6 638,181.8 638.5,182.4 639,182.4 639.5,183.2 640,181.4 640.5,182.5 641,183.1 641.5,183.4 642,182.3 642.5,182.6 643,181.5 643.5,182.8 644,182.3 644.5,182.7 645,182.3 645.5,181.9 646,181.9 646.5,182.2 647,181.4 647.5,182 648,183.2 648.5,182.4 649,181.5 649.5,181.8 650,182.6 650.5,181.5 651,183.1 651.5,182.2 652,182.2 652.5,182 653,181.6 653.5,182.3 654,182.8 654.5,182.5 655,183 655.5,183 656,182.2 656.5,182.4 657,182.7 657.5,181.5 658,183.2 658.5,183.3 659,180.7 659.5,182.2 660,179.9 660.5,181.4 661,181.3 661.5,177.6 662,182.2 662.5,179.3 663,180.4 663.5,180.9 664,180.7 664.5,182.5 665,179.9 665.5,179.9 666,182.7 666.5,180.2 667,179.9 667.5,182.6 668,180.3 668.5,182.3 669,181.2 669.5,180.5 670,182.2 670.5,180.3 671,181.8 671.5,182.7 672,180.5 672.5,180.1 673,182.3 673.5,181.2 674,181.4 674.5,181.8 675,182 675.5,182.4 676,182.3 676.5,181.5 677,177.5 677.5,181.7 678,182 678.5,180.4 679,180.3 679.5,180.4 680,181.1 680.5,180 681,180.3 681.5,182.3 682,179.8 682.5,181.3 683,180.4 683.5,180.8 684,181.1 684.5,179.8 685,180 685.5,182 686,180.9 686.5,180.5 687,179.9 687.5,182.7 688,178.2 688.5,181.5 689,182.4 689.5,182.3 690,176.8 690.5,179.9 691,180 691.5,182.5 692,180.3 692.5,181.3 693,180 693.5,180.8 694,180.1 694.5,182.7 695,182.2 695.5,180.1 696,180.9 696.5,182.2 697,182.5 697.5,181.9 698,180.8 698.5,179.8 699,181.4 699.5,179.9 700,180.9 700.5,182.1 701,181 701.5,181.7 702,181.8 702.5,179.2 703,182.7 703.5,180 704,182.7 704.5,181 705,180.6 705.5,180.3 706,181.6 706.5,181.4 707,180.2 707.5,182.1 708,182.2 708.5,182.8 709,181.9 709.5,182.6 710,182.9 710.5,182.2 711,182.4 711.5,182.5 712,182 712.5,180.4 713,182.4 713.5,181.9 714,181.6 714.5,181.6 715,182.6 715.5,182.1 716,181.7 716.5,183.1 717,182.6 717.5,182.9 718,181.7 718.5,182.4 719,183.4 719.5,182.3 720,181.7 720.5,183.2 721,182.8 721.5,182.1 722,182.1 722.5,179.3 723,183 723.5,181.8 724,182.2 724.5,182.9 725,181.9 725.5,182.8 726,181.9 726.5,182.2 727,179.3 727.5,182.1 728,181.6 728.5,183.2 729,181.7 729.5,181.8 730,182.2 730.5,182.6 731,182.6 731.5,182.6 732,179.5 732.5,182.3 733,181.7 733.5,183.4 734,181.8 734.5,181.8 735,181.6 735.5,183.1 736,182 736.5,183.2 737,182.9 737.5,182.6 738,183.2 738.5,182 739,183 739.5,182 740,182.9 740.5,179.4 741,183.1 741.5,183 742,182.4 742.5,181.7 743,182.5 743.5,179.4 744,182.3 744.5,182.4 745,182.1 745.5,181.8 746,181.7 746.5,182.3 747,182.8 747.5,183.4 748,182.4 748.5,182.3 749,181.9 749.5,182.1 750,181.8 750.5,183.1 751,183.3 751.5,182 752,182 752.5,183.2 753,183 753,188 752.5,187.7 752,188.3 751.5,187 751,186.6 750.5,188 750,186.6 749.5,188 749,188.4 748.5,187.3 748,190.4 747.5,187.7 747,187.8 746.5,188.2 746,188.6 745.5,188 745,189.8 744.5,187.1 744,186.9 743.5,187.5 743,187.9 742.5,187 742,187.7 741.5,187 741,188.6 740.5,187.9 740,187.1 739.5,188.4 739,188.4 738.5,188.3 738,187.7 737.5,187.4 737,188.6 736.5,187.4 736,190.4 735.5,188.2 735,190.4 734.5,187.1 734,187.4 733.5,188.2 733,186.6 732.5,187.9 732,188.2 731.5,187.5 731,188.1 730.5,188.6 730,187.7 729.5,187.1 729,187.1 728.5,188 728,187.3 727.5,187 727,187.1 726.5,188.4 726,188.5 725.5,186.5 725,188 724.5,187.1 724,187.4 723.5,187.6 723,187.8 722.5,188 722,186.7 721.5,187.4 721,188.2 720.5,187.7 720,186.9 719.5,188.3 719,187.4 718.5,187.6 718,188.5 717.5,186.5 717,187.7 716.5,187.6 716,188.5 715.5,187.9 715,187.4 714.5,188.1 714,188.3 713.5,188.4 713,187.4 712.5,188.4 712,188.4 711.5,187.4 711,187.9 710.5,187 710,187.8 709.5,188.3 709,188.4 708.5,186.7 708,188.3 707.5,188.6 707,186.6 706.5,187.5 706,187.7 705.5,187.4 705,187.7 704.5,189.1 704,187.5 703.5,189.5 703,187.5 702.5,188.2 702,188.1 701.5,189.2 701,188.6 700.5,189.1 700,187.5 699.5,189.1 699,189.2 698.5,187.3 698,188.1 697.5,187.5 697,188.7 696.5,187.6 696,188 695.5,187.2 695,189.2 694.5,188 694,189.9 693.5,189.2 693,189.9 692.5,188 692,192.2 691.5,187.2 691,189.9 690.5,189.2 690,188.9 689.5,189.6 689,189.3 688.5,187.9 688,189.8 687.5,188.3 687,189.1 686.5,187.8 686,190.4 685.5,189.9 685,188.9 684.5,189.4 684,189.9 683.5,189.6 683,187.6 682.5,189.9 682,188.5 681.5,187.9 681,188.7 680.5,189.9 680,190.1 679.5,188.1 679,189.5 678.5,188.1 678,188 677.5,188.1 677,187.8 676.5,187.2 676,187.7 675.5,190.1 675,188.9 674.5,188.4 674,188.4 673.5,188.1 673,189.2 672.5,187.5 672,187.9 671.5,189.3 671,187.8 670.5,188.2 670,188.5 669.5,187.9 669,187.5 668.5,188.1 668,189.9 667.5,189.1 667,189.2 666.5,189.5 666,187.3 665.5,189.4 665,190.1 664.5,189.5 664,190 663.5,189.6 663,187.7 662.5,187.8 662,188.5 661.5,188.1 661,187.4 660.5,190.1 660,187.7 659.5,188.5 659,188.8 658.5,188.2 658,188.2 657.5,188.3 657,186.9 656.5,186.9 656,187 655.5,188.2 655,188.3 654.5,187.1 654,188.3 653.5,187 653,188.6 652.5,186.6 652,186.6 651.5,187.4 651,188.3 650.5,187.3 650,186.6 649.5,188.4 649,187.7 648.5,188.6 648,187.9 647.5,187.3 647,187.4 646.5,187.9 646,187.9 645.5,187.4 645,187.7 644.5,188.3 644,188 643.5,188.3 643,190.2 642.5,187.1 642,187.1 641.5,188 641,187.8 640.5,188.5 640,187.7 639.5,187.4 639,187.6 638.5,188.4 638,186.9 637.5,186.8 637,188.2 636.5,188.5 636,187.8 635.5,187.4 635,186.7 634.5,188 634,186.6 633.5,188.2 633,188.2 632.5,187.3 632,187.9 631.5,187.9 631,188.5 630.5,187.2 630,186.6 629.5,187.8 629,186.8 628.5,186.7 628,188.3 627.5,187.3 627,187.5 626.5,187.9 626,187.6 625.5,188 625,187.2 624.5,187.6 624,186.7 623.5,186.8 623,188.9 622.5,187.1 622,188.4 621.5,187 621,187.9 620.5,187.8 620,187.5 619.5,187.1 619,187.5 618.5,187 618,187.7 617.5,187.1 617,187.5 616.5,187.7 616,188.3 615.5,188.4 615,187.7 614.5,186.6 614,188.2 613.5,188.1 613,186.9 612.5,187.9 612,188.6 611.5,187.7 611,187.4 610.5,187 610,187.2 609.5,189.4 609,187.8 608.5,187.5 608,189.8 607.5,190 607,187.6 606.5,189.9 606,187.5 605.5,188.3 605,190 604.5,190 604,187.3 603.5,189.7 603,189 602.5,189.1 602,188.4 601.5,189.7 601,188.5 600.5,189.5 600,187.9 599.5,188.5 599,187.5 598.5,189.1 598,187.9 597.5,189.8 597,187.3 596.5,189.9 596,187.7 595.5,189.1 595,190 594.5,190 594,189.8 593.5,189.1 593,188.3 592.5,187.9 592,189.1 591.5,188.1 591,187.4 590.5,189.7 590,187.9 589.5,189.1 589,188.4 588.5,188.4 588,188.1 587.5,188.8 587,189.8 586.5,188.3 586,188.1 585.5,187.6 585,188.4 584.5,189.5 584,189.8 583.5,189.5 583,187.2 582.5,188.6 582,189 581.5,189 581,189.6 580.5,189 580,189.6 579.5,188.6 579,189.2 578.5,189.8 578,188.2 577.5,190 577,188.7 576.5,187.3 576,189.5 575.5,188.6 575,188.7 574.5,188.8 574,189.2 573.5,187.6 573,187.5 572.5,190.2 572,189 571.5,188 571,189.7 570.5,188.6 570,188.6 569.5,189.5 569,193.1 568.5,187.6 568,188.6 567.5,189.5 567,188.1 566.5,188.7 566,189.2 565.5,189.3 565,188.1 564.5,188.3 564,188.8 563.5,191 563,189.4 562.5,187.9 562,186.9 561.5,186.8 561,189.2 560.5,188.2 560,187.5 559.5,188.6 559,186.9 558.5,189.3 558,187.1 557.5,187.4 557,187.5 556.5,187 556,188.1 555.5,187.5 555,188.1 554.5,186.9 554,189.8 553.5,187.1 553,188.5 552.5,187.3 552,188.4 551.5,187.6 551,187.1 550.5,188.1 550,186.7 549.5,187 549,187.6 548.5,187.2 548,186.9 547.5,187.6 547,187.5 546.5,188.3 546,187.7 545.5,186.9 545,188.2 544.5,188.2 544,188.6 543.5,186.6 543,188.4 542.5,186.6 542,187.7 541.5,187.4 541,187.8 540.5,188.1 540,188.5Z" fill="#080808"/>
<path d="M563.7,245.5 V265.6 M565.1,246.4 V264.4 M567.4,245.8 V260.5 M570,250.6 V264.6 M571.8,249.4 V265.4 M574,247.1 V267.2 M575.9,250.7 V262.2 M578.6,249.6 V261.2 M581.1,246.8 V263.3 M583.2,248.8 V265.1 M584.5,248.2 V266.2 M587.6,245.5 V262.9 M589.4,248.9 V260.9 M591.4,245.8 V266.6 M593.9,245.1 V262 M595.4,248.1 V262 M597.6,248.3 V264.8 M600.2,248.9 V266.5 M603,248.1 V260.4 M603.9,245.6 V260.1 M607,247.4 V262.3 M609.3,250.7 V260.9 M659,250.7 V267.3 M660.9,250 V260.2 M663.6,248.1 V265.5 M665.8,246 V268.4 M668.1,249.6 V264.1 M669.6,250.7 V264 M672.5,249.7 V262.3 M674.2,246.6 V264.5 M676.7,246.3 V263.3 M679.1,245.4 V260.6 M681.5,246.5 V261 M683,247 V268 M685.1,247.4 V267.7 M687.8,245.1 V264 M689.8,249.6 V266.3 M692.2,247 V266.3 M693.6,245.4 V268.6 M696.8,247.6 V266.9 M698.1,245.3 V267.5 M700.3,250.3 V263.8 M702.8,246.2 V264.2 M704.3,245.9 V260.4 M540.3,251.8 V266.8 M548,250.8 V261.8 M558.2,247.8 V270.8 M563,243.8 V265.8 M620,248.8 V261.8 M623.8,249.8 V272.8 M629,250.8 V262.8 M645,246.8 V271.8 M710.5,246.8 V262.8 M725,249.8 V261.8 M732.3,243.8 V265.8 M737,249.8 V262.8 M741,250.8 V260.8 " stroke="#56566a" stroke-width="1.15" fill="none"/>
<path d="M540,251.8 540.5,249.4 541,251.8 541.5,250.6 542,251 542.5,251 543,251.7 543.5,250.9 544,251.5 544.5,250.5 545,250.4 545.5,251.3 546,251.1 546.5,250.6 547,250.6 547.5,250.9 548,251.7 548.5,252.1 549,251.7 549.5,251.1 550,250.5 550.5,251.7 551,251.9 551.5,252.2 552,250.5 552.5,251 553,250.4 553.5,251.8 554,251.2 554.5,252.3 555,251 555.5,249.1 556,250.9 556.5,251.1 557,251.6 557.5,250.8 558,251.7 558.5,251.9 559,251.7 559.5,250.6 560,250.5 560.5,251.2 561,251.9 561.5,250.7 562,250.7 562.5,251.1 563,251.9 563.5,250.5 564,249.6 564.5,250.9 565,250 565.5,249.1 566,246.4 566.5,251.2 567,250.5 567.5,251 568,250.7 568.5,251.2 569,249.4 569.5,251.6 570,250.5 570.5,251.6 571,248.9 571.5,250.8 572,250 572.5,251.4 573,251.5 573.5,249.5 574,250.5 574.5,250.5 575,250.2 575.5,250.5 576,249.2 576.5,251.4 577,249.5 577.5,250 578,249.5 578.5,246.4 579,251.4 579.5,249 580,249.5 580.5,249.6 581,250.1 581.5,251 582,250.7 582.5,251.5 583,249.6 583.5,249.8 584,249.2 584.5,249.1 585,251.2 585.5,250.8 586,250.9 586.5,250 587,250.3 587.5,250.8 588,250.3 588.5,249.4 589,249.3 589.5,250.4 590,249.8 590.5,251.2 591,249.3 591.5,250.8 592,251.4 592.5,247.8 593,250.5 593.5,249 594,250.9 594.5,249.1 595,249.5 595.5,249.8 596,249 596.5,250.3 597,250.1 597.5,251.2 598,249.1 598.5,250 599,250.8 599.5,249.6 600,251 600.5,250.3 601,250.8 601.5,250.7 602,251.4 602.5,251.2 603,249.4 603.5,250.6 604,251.1 604.5,249.4 605,250.1 605.5,249.8 606,247.7 606.5,249.8 607,249.6 607.5,249.9 608,249.2 608.5,251.6 609,250.2 609.5,250.1 610,250 610.5,250.7 611,250.8 611.5,252.2 612,250.9 612.5,251.7 613,251.9 613.5,251.6 614,252.3 614.5,251.4 615,250.1 615.5,250.9 616,251.4 616.5,250.1 617,251.9 617.5,251.1 618,250.8 618.5,250.4 619,250.7 619.5,250.9 620,252.3 620.5,252.2 621,250.3 621.5,250.4 622,250.4 622.5,252.1 623,250.4 623.5,250.6 624,251.5 624.5,251.8 625,250.9 625.5,250.9 626,250.9 626.5,251 627,250.5 627.5,252.2 628,251.2 628.5,251.8 629,251.1 629.5,251.9 630,251.1 630.5,252 631,252.3 631.5,252.1 632,251.1 632.5,251.6 633,250.6 633.5,251.2 634,251.6 634.5,250.8 635,251.9 635.5,251.4 636,250.4 636.5,251.1 637,250.4 637.5,250.7 638,251.7 638.5,250.9 639,252.2 639.5,251.6 640,252.1 640.5,252 641,250.3 641.5,251.7 642,251.6 642.5,250.5 643,250.7 643.5,249.7 644,250.8 644.5,250.3 645,250 645.5,252.1 646,250.1 646.5,251 647,251.8 647.5,251.3 648,252 648.5,250.5 649,250.7 649.5,252 650,251.2 650.5,250.7 651,251.7 651.5,250.6 652,251.2 652.5,250.9 653,251.6 653.5,251 654,251.5 654.5,250.4 655,251.7 655.5,252.2 656,251.2 656.5,250.7 657,252.2 657.5,251.2 658,252 658.5,250.9 659,250.4 659.5,249.7 660,250.6 660.5,250.9 661,250.7 661.5,249 662,250.7 662.5,250.8 663,249.5 663.5,250.4 664,250 664.5,249 665,251.1 665.5,246.5 666,249.4 666.5,249.5 667,251.3 667.5,250.6 668,248.9 668.5,250.9 669,250.3 669.5,250.9 670,250.2 670.5,250.5 671,246.6 671.5,250.6 672,250.1 672.5,249.7 673,250.6 673.5,250 674,250 674.5,250.9 675,250.2 675.5,249.1 676,249.2 676.5,250.9 677,251.5 677.5,249.3 678,250.3 678.5,250.5 679,251.5 679.5,251.5 680,249.2 680.5,250 681,250.1 681.5,250.2 682,250.4 682.5,248.9 683,250.9 683.5,249.9 684,249.3 684.5,250.5 685,251.1 685.5,249.1 686,251.6 686.5,249.3 687,251.2 687.5,250.7 688,250.1 688.5,249.8 689,250.6 689.5,250.4 690,250.3 690.5,249.8 691,250.7 691.5,249.7 692,251.4 692.5,250.2 693,250 693.5,249.5 694,249.2 694.5,247 695,249.6 695.5,251 696,251.4 696.5,251.2 697,247.8 697.5,251.1 698,250.2 698.5,250.6 699,249 699.5,250.5 700,250.1 700.5,248.9 701,251.4 701.5,250.4 702,251.2 702.5,250.6 703,249.8 703.5,250.2 704,251.2 704.5,250.3 705,250.6 705.5,249.1 706,250 706.5,250.9 707,252 707.5,252.3 708,251.4 708.5,250.9 709,252 709.5,250.3 710,250.7 710.5,251.9 711,251.8 711.5,251.2 712,252.3 712.5,251.2 713,251 713.5,251.7 714,252.1 714.5,251.4 715,251.6 715.5,251.3 716,251.4 716.5,248.6 717,251.7 717.5,252 718,252.2 718.5,250.8 719,251 719.5,250.4 720,250.4 720.5,251.5 721,251.7 721.5,251.8 722,250.4 722.5,252.2 723,251.8 723.5,251.3 724,250.3 724.5,250.8 725,251.9 725.5,251 726,251.3 726.5,251.9 727,250.5 727.5,250.9 728,250.5 728.5,251.7 729,252 729.5,251.7 730,252.3 730.5,250.3 731,251.8 731.5,250.5 732,251.2 732.5,251.7 733,250.7 733.5,252 734,251.2 734.5,250.5 735,251.9 735.5,252.1 736,251 736.5,251.1 737,252 737.5,251.2 738,251.3 738.5,251.3 739,251.3 739.5,251.6 740,251.2 740.5,251.4 741,252.1 741.5,251.8 742,250.6 742.5,251.5 743,250.8 743.5,250.5 744,252.1 744.5,251 745,252.2 745.5,250.9 746,250.9 746.5,250.4 747,250.6 747.5,252 748,251.7 748.5,251.4 749,251.7 749.5,251.7 750,251.1 750.5,251.9 751,251.6 751.5,251 752,251.3 752.5,250.7 753,251.3 753,256.2 752.5,255.9 752,256.3 751.5,256.5 751,257.2 750.5,255.5 750,256.1 749.5,255.4 749,256 748.5,256.1 748,255.8 747.5,256.8 747,256.2 746.5,255.7 746,255.3 745.5,256.8 745,256.3 744.5,255.3 744,255.5 743.5,256.4 743,256.9 742.5,255.5 742,259 741.5,255.4 741,257 740.5,256.7 740,256.3 739.5,257.3 739,256.1 738.5,255.5 738,256.9 737.5,256.1 737,255.9 736.5,255.3 736,256.5 735.5,257.1 735,257.2 734.5,255.8 734,256.6 733.5,257.2 733,255.4 732.5,257 732,256.4 731.5,256 731,255.7 730.5,255.9 730,257.2 729.5,256.2 729,255.7 728.5,257 728,255.5 727.5,257.3 727,255.7 726.5,256.1 726,256.1 725.5,256.8 725,255.7 724.5,256 724,256.2 723.5,255.8 723,255.7 722.5,255.8 722,256.3 721.5,256 721,256.8 720.5,257.7 720,256.1 719.5,255.3 719,255.5 718.5,256.4 718,257.2 717.5,256.6 717,256.2 716.5,257.1 716,256.2 715.5,255.8 715,257.3 714.5,255.5 714,257.2 713.5,255.4 713,256.8 712.5,255.8 712,255.3 711.5,256.4 711,256.1 710.5,256.2 710,256.2 709.5,255.5 709,255.4 708.5,255.3 708,257.3 707.5,255.5 707,256.6 706.5,257 706,256.9 705.5,256.5 705,256 704.5,258.6 704,257.7 703.5,259.8 703,257.1 702.5,258.4 702,257.8 701.5,258.7 701,257.9 700.5,258.1 700,257.3 699.5,256.6 699,256.2 698.5,256.1 698,258.5 697.5,257.3 697,256.2 696.5,257 696,257.5 695.5,257.9 695,256.9 694.5,256.7 694,257.4 693.5,257.5 693,258.2 692.5,258.3 692,257.4 691.5,256.9 691,258.7 690.5,256.5 690,257.5 689.5,256 689,257.4 688.5,257.6 688,256.6 687.5,256.2 687,256.6 686.5,256.1 686,257.3 685.5,257 685,258.2 684.5,256.8 684,260.5 683.5,256.9 683,258.5 682.5,257.8 682,258.3 681.5,257.5 681,257.7 680.5,258.4 680,258.2 679.5,255.9 679,257.1 678.5,256.2 678,257.1 677.5,256.4 677,257.3 676.5,256.4 676,257 675.5,257.1 675,258 674.5,256 674,256.3 673.5,256.3 673,257 672.5,256.9 672,258.4 671.5,258.7 671,258.1 670.5,257.7 670,258.4 669.5,258.6 669,258 668.5,258.7 668,258.6 667.5,256.8 667,257.6 666.5,256.2 666,258.7 665.5,256.2 665,256 664.5,258.3 664,258.5 663.5,257.4 663,257.5 662.5,256 662,258.6 661.5,258.7 661,258.5 660.5,256.3 660,256.2 659.5,255.8 659,255.9 658.5,258.3 658,257.1 657.5,255.4 657,255.8 656.5,255.3 656,256.8 655.5,255.8 655,255.6 654.5,257.2 654,257 653.5,255.7 653,256.3 652.5,257.1 652,256.4 651.5,259.2 651,256.3 650.5,256.2 650,256.1 649.5,255.7 649,256.5 648.5,256.2 648,255.3 647.5,257 647,255.6 646.5,256.7 646,255.8 645.5,255.9 645,256 644.5,256.3 644,256.2 643.5,255.6 643,255.3 642.5,256.9 642,257 641.5,256.2 641,257.1 640.5,256.8 640,255.9 639.5,256.8 639,256.8 638.5,255.9 638,257.2 637.5,256.1 637,257.1 636.5,257.2 636,256.8 635.5,255.5 635,256 634.5,256.1 634,256.3 633.5,256.2 633,256.5 632.5,256.5 632,256.6 631.5,256.2 631,257.2 630.5,255.4 630,256.9 629.5,256.4 629,255.3 628.5,255.4 628,255.5 627.5,256.1 627,256.8 626.5,257.1 626,255.5 625.5,255.3 625,256.1 624.5,255.6 624,255.7 623.5,256.4 623,255.6 622.5,256.1 622,255.5 621.5,255.4 621,256.3 620.5,256.6 620,256.5 619.5,259.3 619,256.6 618.5,255.9 618,255.8 617.5,257.3 617,255.5 616.5,256.1 616,257.5 615.5,257.8 615,255.6 614.5,255.7 614,255.7 613.5,256.4 613,257.1 612.5,256.2 612,256.4 611.5,255.7 611,257.7 610.5,257.2 610,257.1 609.5,256 609,258.5 608.5,256.9 608,256.3 607.5,257.2 607,257.4 606.5,257.3 606,258 605.5,256.7 605,257.6 604.5,258.4 604,258.3 603.5,256.4 603,258 602.5,256.4 602,256.2 601.5,258.3 601,257 600.5,256.6 600,258.9 599.5,257.4 599,256.4 598.5,257.5 598,256.3 597.5,258.4 597,256.4 596.5,256.9 596,257.8 595.5,258.2 595,258 594.5,256.2 594,257.8 593.5,257 593,257.3 592.5,257.8 592,258.3 591.5,257.1 591,258.5 590.5,256.6 590,258.6 589.5,256.5 589,257 588.5,257.5 588,257.6 587.5,258.1 587,257 586.5,258.4 586,257.9 585.5,256.6 585,256.7 584.5,257.4 584,256.3 583.5,257.4 583,256.3 582.5,257.3 582,257 581.5,257.6 581,258.2 580.5,258.6 580,257.3 579.5,259.8 579,258.3 578.5,256.4 578,256 577.5,257.6 577,257.8 576.5,258.2 576,258.1 575.5,258.4 575,257.9 574.5,257.9 574,257 573.5,257 573,256.4 572.5,257.5 572,256.9 571.5,256.8 571,258.3 570.5,256.3 570,259.3 569.5,256.7 569,255.9 568.5,258.1 568,256.5 567.5,258.3 567,258.6 566.5,256.7 566,257.5 565.5,257.9 565,258.5 564.5,256.9 564,258.3 563.5,258.6 563,258.1 562.5,256.4 562,255.8 561.5,256 561,255.8 560.5,255.7 560,256.2 559.5,255.6 559,256 558.5,256.2 558,255.7 557.5,255.3 557,256.5 556.5,255.9 556,257.2 555.5,256.8 555,256.2 554.5,256.5 554,255.3 553.5,255.9 553,256.3 552.5,256.5 552,256.1 551.5,257 551,256.1 550.5,256.4 550,257.3 549.5,255.4 549,258.7 548.5,256.9 548,255.4 547.5,255.7 547,257.2 546.5,257.3 546,257.1 545.5,256.1 545,256.2 544.5,255.5 544,256.9 543.5,257.1 543,255.3 542.5,255.4 542,257 541.5,256.2 541,255.8 540.5,255.4 540,256.4Z" fill="#080808"/>
<path d="M567,314 V341 M577.5,313 V340 M590,313 V341 M603.7,312 V340 M626.7,313 V342 M632,314 V328 M643,317 V331 M664.5,311 V340 M670,316 V332 M676,313 V339 M684.5,313 V339 M698,312 V339 M706,316 V330 M734,316 V328 M751,317 V329 M566.1,318.5 V326 M572,318.6 V325.4 M577.1,316.8 V327.5 M583.7,316.2 V326.5 M590.6,318.7 V325.7 M595.1,318.1 V327.2 M601.5,317.4 V327.5 M607.2,318.1 V326.1 M662.2,316.3 V325.6 M668.3,316.1 V326.6 M673.3,318.4 V326.6 M679,317.2 V325.1 M686.7,317.5 V326.2 M692.1,317.3 V326.5 M697.7,318.8 V326.6 M702.7,316.1 V327.8 " stroke="#56566a" stroke-width="1.15" fill="none"/>
<path d="M540,320 540.5,320.4 541,319 541.5,320.2 542,318.8 542.5,319.9 543,318.7 543.5,319.5 544,318.6 544.5,318.7 545,319.5 545.5,320.2 546,320.4 546.5,319.6 547,319.7 547.5,319.8 548,318.7 548.5,319 549,319 549.5,318.7 550,320.5 550.5,319.7 551,319.9 551.5,319.7 552,320.4 552.5,319.9 553,319 553.5,317.4 554,320 554.5,318.9 555,318.8 555.5,320 556,320.5 556.5,320 557,318.6 557.5,318.7 558,319.5 558.5,318.7 559,318.9 559.5,319.2 560,318.6 560.5,319.2 561,318.6 561.5,319.2 562,320.1 562.5,318.7 563,318.7 563.5,319.2 564,318.1 564.5,319.3 565,320.2 565.5,320.5 566,319.4 566.5,320 567,320.3 567.5,319.6 568,318.7 568.5,319.7 569,320.2 569.5,319.4 570,319.9 570.5,319.5 571,319.8 571.5,319.1 572,319.6 572.5,318.9 573,319 573.5,320.3 574,318.7 574.5,319.3 575,320.2 575.5,320.5 576,318.9 576.5,319.3 577,319 577.5,319.1 578,319.9 578.5,318.7 579,319.9 579.5,319.7 580,319.7 580.5,319.1 581,319.3 581.5,318.5 582,320.3 582.5,318.7 583,319.9 583.5,319.1 584,319.5 584.5,319.9 585,319.9 585.5,319.2 586,319.4 586.5,319.5 587,320.4 587.5,319.7 588,318.4 588.5,320.5 589,318.8 589.5,319.5 590,318.5 590.5,319.7 591,320.3 591.5,319.2 592,319.2 592.5,319.9 593,318.8 593.5,319.2 594,318.5 594.5,319.5 595,320.1 595.5,319.1 596,319.5 596.5,319.3 597,319.5 597.5,319 598,319.3 598.5,319 599,318.9 599.5,320.5 600,319 600.5,319.9 601,320.5 601.5,320.2 602,320.2 602.5,319.2 603,319.8 603.5,320 604,319.9 604.5,320.4 605,320.5 605.5,320.4 606,319.3 606.5,320.1 607,318.5 607.5,319.2 608,320.2 608.5,319.8 609,320.4 609.5,319.4 610,319.8 610.5,319.8 611,320.1 611.5,319.5 612,319.7 612.5,319.8 613,318.9 613.5,319.9 614,318.5 614.5,319.3 615,319.6 615.5,320.1 616,319.2 616.5,319.4 617,319.8 617.5,318.8 618,318.7 618.5,317.3 619,318.7 619.5,319.3 620,319.6 620.5,319.9 621,318.7 621.5,318.8 622,320.4 622.5,318.8 623,318.7 623.5,320.5 624,320.3 624.5,319.5 625,319.6 625.5,319.9 626,320.3 626.5,320.2 627,319.9 627.5,319.4 628,319.5 628.5,319.4 629,319 629.5,319.9 630,320.1 630.5,319.2 631,319.8 631.5,316.4 632,320.5 632.5,320 633,319.6 633.5,317.1 634,318.5 634.5,318.5 635,320.5 635.5,319.5 636,319.7 636.5,320.5 637,319 637.5,319.2 638,320.3 638.5,318.8 639,318.7 639.5,318.7 640,319.2 640.5,319.5 641,319.7 641.5,320.5 642,319 642.5,320 643,318.5 643.5,318.6 644,319 644.5,319.2 645,317.5 645.5,316.8 646,319 646.5,317.8 647,319.6 647.5,318.9 648,320.5 648.5,320.5 649,319.3 649.5,319.2 650,318.8 650.5,319.7 651,319.7 651.5,318.7 652,319.1 652.5,320.3 653,318.8 653.5,319.4 654,320.5 654.5,319.9 655,318.9 655.5,319.7 656,320.1 656.5,319.9 657,319.4 657.5,320.1 658,318.7 658.5,320.2 659,319.1 659.5,320.2 660,320.1 660.5,320.3 661,318.9 661.5,319.1 662,320 662.5,318.7 663,318.6 663.5,319.3 664,320.2 664.5,319.2 665,319.2 665.5,319.1 666,318.7 666.5,319.5 667,320.3 667.5,319.8 668,319.7 668.5,319 669,319.8 669.5,320.2 670,320.4 670.5,319.1 671,320.5 671.5,318.6 672,318.9 672.5,318.9 673,319 673.5,320.5 674,320.4 674.5,320.3 675,320 675.5,318.9 676,320.2 676.5,319.8 677,319.5 677.5,319.9 678,319.7 678.5,319.9 679,319.8 679.5,318.5 680,319.2 680.5,318.8 681,318.7 681.5,320.3 682,319.3 682.5,318.6 683,320.2 683.5,319.4 684,319.3 684.5,319.7 685,319.9 685.5,319.4 686,319.6 686.5,320.2 687,320.2 687.5,318.6 688,319.5 688.5,319 689,319 689.5,320.2 690,318.7 690.5,319.2 691,319.5 691.5,317.5 692,319.2 692.5,319.1 693,318.6 693.5,319.7 694,319.5 694.5,319.3 695,319.8 695.5,320.1 696,319 696.5,319.6 697,319.2 697.5,320.2 698,319.4 698.5,320 699,318.9 699.5,318.6 700,319.9 700.5,320.4 701,319.5 701.5,320.1 702,320.1 702.5,319.5 703,320.5 703.5,319.4 704,319.7 704.5,319 705,319.7 705.5,318.9 706,318.6 706.5,319.4 707,318.8 707.5,318.9 708,320 708.5,320.1 709,319 709.5,320.5 710,318.5 710.5,319.1 711,319.6 711.5,318.9 712,318.8 712.5,319.3 713,320.1 713.5,318.8 714,319.3 714.5,320.5 715,320.3 715.5,320.3 716,319.1 716.5,319.3 717,318.5 717.5,320.5 718,319.3 718.5,320.4 719,319.3 719.5,319 720,318.9 720.5,320.3 721,319.1 721.5,319 722,319.8 722.5,319.8 723,319.6 723.5,318.9 724,319.5 724.5,318.7 725,319.7 725.5,319.2 726,318.6 726.5,318.7 727,319.7 727.5,318.8 728,318.5 728.5,320.2 729,319.9 729.5,319.5 730,316.5 730.5,319.9 731,318.8 731.5,320.4 732,319.4 732.5,320.1 733,319.8 733.5,318.6 734,318 734.5,319.5 735,318.9 735.5,319.2 736,319.8 736.5,318.9 737,318.6 737.5,319.9 738,319 738.5,318.9 739,318.8 739.5,318.1 740,318.7 740.5,319.5 741,318.8 741.5,318.7 742,320 742.5,319.6 743,319.8 743.5,320.2 744,318.6 744.5,320.3 745,319 745.5,320.2 746,318.7 746.5,318.8 747,319.1 747.5,319.4 748,318.5 748.5,317.8 749,319.2 749.5,320 750,319.6 750.5,319.3 751,319.4 751.5,320.2 752,318.9 752.5,319.5 753,319.6 753,324.6 752.5,324.1 752,323.6 751.5,324.5 751,324.2 750.5,324.3 750,324.3 749.5,323.8 749,324 748.5,324.7 748,323.8 747.5,324.6 747,323.5 746.5,325.4 746,325.2 745.5,323.8 745,324.8 744.5,324.5 744,324 743.5,325.2 743,325.2 742.5,325.1 742,324 741.5,324.4 741,325.4 740.5,325.4 740,324.5 739.5,325 739,323.9 738.5,325.2 738,324.9 737.5,324.1 737,325 736.5,324.5 736,323.9 735.5,325.1 735,325.1 734.5,325.2 734,324.2 733.5,324.5 733,324.7 732.5,325.3 732,324.5 731.5,324.7 731,324.1 730.5,325.5 730,323.7 729.5,324.1 729,325.1 728.5,325.2 728,325.1 727.5,325.5 727,325 726.5,324.6 726,324.9 725.5,323.7 725,325.4 724.5,324.9 724,324.9 723.5,325.5 723,325.5 722.5,324.4 722,327.2 721.5,325.4 721,323.9 720.5,324.8 720,325.3 719.5,324.8 719,325 718.5,324.9 718,326 717.5,323.9 717,324.9 716.5,325.4 716,324.6 715.5,325.1 715,325 714.5,323.7 714,325 713.5,324 713,324 712.5,323.9 712,324.6 711.5,324.8 711,325 710.5,325.4 710,323.9 709.5,324.1 709,324.8 708.5,324.1 708,324 707.5,323.8 707,325.3 706.5,324 706,325 705.5,323.7 705,323.8 704.5,325.2 704,324.7 703.5,324.7 703,323.8 702.5,325.1 702,324.5 701.5,323.9 701,325.3 700.5,324.4 700,325.2 699.5,323.7 699,324.6 698.5,325 698,323.8 697.5,324.6 697,325.1 696.5,323.8 696,324 695.5,324.3 695,324.9 694.5,324.3 694,324.6 693.5,324.5 693,324.6 692.5,324.8 692,325.1 691.5,323.6 691,325.5 690.5,324.4 690,323.8 689.5,325.5 689,325.2 688.5,323.9 688,324.1 687.5,327 687,324.8 686.5,324.6 686,326.4 685.5,325.4 685,324.8 684.5,325.2 684,324.5 683.5,324.6 683,324.2 682.5,323.6 682,323.8 681.5,324.5 681,324 680.5,325.3 680,324.5 679.5,325.4 679,323.9 678.5,324.7 678,324.6 677.5,324.8 677,324.8 676.5,324 676,325.2 675.5,324.5 675,325.3 674.5,324.6 674,324.7 673.5,324.2 673,324.9 672.5,325.3 672,325.1 671.5,323.5 671,324.3 670.5,324.1 670,326.6 669.5,324.7 669,325.1 668.5,324.9 668,323.7 667.5,324.2 667,323.6 666.5,324 666,325 665.5,324.5 665,324.1 664.5,324.3 664,324.3 663.5,324.7 663,323.7 662.5,325.3 662,323.7 661.5,325 661,324.4 660.5,323.8 660,325 659.5,326.9 659,323.9 658.5,324.5 658,323.5 657.5,325.1 657,324 656.5,323.6 656,325.3 655.5,324.6 655,325.4 654.5,325.4 654,324.3 653.5,324 653,324.6 652.5,323.8 652,324.4 651.5,325.2 651,323.6 650.5,323.9 650,324.2 649.5,323.7 649,324.9 648.5,324.5 648,323.9 647.5,323.6 647,324.9 646.5,324 646,323.8 645.5,324.1 645,323.8 644.5,324 644,325.1 643.5,325 643,325.1 642.5,324.9 642,324.1 641.5,324.9 641,325.2 640.5,325.3 640,324.8 639.5,324.2 639,324.7 638.5,324.9 638,325.3 637.5,325.3 637,325 636.5,324.1 636,323.7 635.5,325.4 635,324.2 634.5,324.2 634,324.4 633.5,324.7 633,325 632.5,325.4 632,324.8 631.5,323.6 631,325.2 630.5,324.1 630,324.5 629.5,324.1 629,325.4 628.5,323.9 628,324.8 627.5,324 627,324.2 626.5,325 626,324.8 625.5,324.2 625,323.8 624.5,324.6 624,324.8 623.5,324.1 623,327.4 622.5,325.4 622,324.3 621.5,325.2 621,324.3 620.5,324.9 620,325.2 619.5,326.1 619,323.6 618.5,324.7 618,324.7 617.5,323.9 617,324.6 616.5,325.4 616,323.8 615.5,324.1 615,327 614.5,326.3 614,324.6 613.5,324.6 613,325 612.5,325.8 612,323.8 611.5,323.6 611,325.2 610.5,327.6 610,324.9 609.5,323.9 609,323.8 608.5,325 608,324.5 607.5,325.2 607,323.6 606.5,325.4 606,324.2 605.5,324.1 605,325 604.5,325.2 604,324.6 603.5,325.2 603,324.4 602.5,325.3 602,323.7 601.5,325 601,324 600.5,324.7 600,324.3 599.5,325.3 599,324.9 598.5,325.2 598,323.6 597.5,325.1 597,323.8 596.5,324.4 596,323.5 595.5,323.7 595,323.6 594.5,324.6 594,324.2 593.5,324.9 593,325.3 592.5,325.3 592,324 591.5,327.3 591,324.7 590.5,325.2 590,324.9 589.5,324.9 589,325.2 588.5,325.4 588,324.3 587.5,324.9 587,323.8 586.5,323.8 586,324.9 585.5,325.4 585,325.3 584.5,323.7 584,324.9 583.5,324.6 583,325.4 582.5,325.1 582,324 581.5,325.3 581,323.8 580.5,324.7 580,323.5 579.5,324.3 579,324.8 578.5,324.9 578,325.4 577.5,325 577,325.4 576.5,324.5 576,325.1 575.5,323.5 575,324.8 574.5,323.7 574,324.2 573.5,323.8 573,324.2 572.5,324.7 572,325.3 571.5,324.7 571,325 570.5,323.6 570,324.6 569.5,327.3 569,323.8 568.5,325.1 568,323.9 567.5,325.2 567,324.7 566.5,324.5 566,324.3 565.5,325.2 565,324.2 564.5,324.5 564,326.1 563.5,324.2 563,324.6 562.5,323.7 562,324.4 561.5,324.6 561,324.8 560.5,323.6 560,323.6 559.5,324.9 559,324.8 558.5,325.4 558,323.7 557.5,324.8 557,324.6 556.5,327.2 556,324 555.5,325.3 555,324.3 554.5,324.3 554,325.5 553.5,323.8 553,323.6 552.5,323.7 552,323.8 551.5,327.5 551,323.9 550.5,325.4 550,324.1 549.5,325.4 549,324.4 548.5,324.7 548,323.7 547.5,325 547,323.9 546.5,324.2 546,324.8 545.5,325.4 545,324.3 544.5,324.6 544,325.2 543.5,323.8 543,323.7 542.5,324.8 542,325.1 541.5,323.7 541,323.9 540.5,324.3 540,323.7Z" fill="#080808"/>
<path d="M824.5,81 V155 M840,83 V156 M859,81 V156 M913.7,84 V156 M926.7,82 V154 M943.5,83 V156 M820.2,107.1 V118.9 M826.8,105.7 V124.3 M832.9,107.7 V119.3 M839.4,105.3 V118.9 M846,108.9 V119.4 M850,106.3 V120.3 M856.5,106.5 V118.7 M863.8,108.5 V121.6 M912.1,108.2 V121.7 M918.8,107.5 V120.9 M925.1,108.4 V119.4 M931.5,106.4 V121.7 M938.3,106.6 V124 M942,106 V123.7 M950.4,107.7 V120.2 M956.5,108.1 V125 M820,103 V125 M900.5,108 V123 M911,107 V129 M958,104 V121 M979.5,106 V124 M1002,110 V125 " stroke="#56566a" stroke-width="1.15" fill="none"/>
<path d="M788,110.1 788.5,107.9 789,109.4 789.5,110.4 790,111.4 790.5,109.7 791,108.3 791.5,110.9 792,110.8 792.5,111 793,109.5 793.5,111.1 794,111.4 794.5,109.6 795,109.9 795.5,107.8 796,109.2 796.5,111 797,109.4 797.5,110.3 798,107.7 798.5,111.2 799,110.7 799.5,110.7 800,109.9 800.5,109.3 801,110.1 801.5,110.3 802,109.6 802.5,110 803,111.1 803.5,109.2 804,110.3 804.5,110.5 805,109.3 805.5,111.2 806,110.6 806.5,110 807,110.8 807.5,110.8 808,111.4 808.5,110.4 809,110.6 809.5,110.6 810,109.3 810.5,111 811,109.9 811.5,109.7 812,110 812.5,111.3 813,110.9 813.5,108.8 814,110.7 814.5,110.4 815,109.6 815.5,110.8 816,110.6 816.5,110.2 817,109.6 817.5,110.6 818,107.9 818.5,106.7 819,106.6 819.5,107.8 820,104.9 820.5,106.7 821,107.6 821.5,108.2 822,107.4 822.5,109.5 823,105.8 823.5,104.9 824,106.5 824.5,105.9 825,108.1 825.5,101.8 826,107.4 826.5,109.5 827,106.2 827.5,107.7 828,108.1 828.5,106.3 829,105.2 829.5,107.2 830,105.7 830.5,101.5 831,104.9 831.5,105.6 832,106.2 832.5,108.8 833,106.6 833.5,109.2 834,105.4 834.5,106.7 835,109.3 835.5,107.1 836,108.3 836.5,107.1 837,106.1 837.5,109.1 838,106.7 838.5,105 839,109.3 839.5,108.5 840,105.7 840.5,108.4 841,107.7 841.5,105.7 842,106.7 842.5,109.1 843,105.3 843.5,107.3 844,107.3 844.5,107.8 845,108.3 845.5,105.7 846,107.8 846.5,107.3 847,108.2 847.5,108.6 848,107.6 848.5,107.3 849,108.8 849.5,106.5 850,109.2 850.5,106.9 851,109.1 851.5,105.1 852,107.7 852.5,105.1 853,108.7 853.5,109.1 854,105.2 854.5,109.5 855,107.8 855.5,108.1 856,109 856.5,105.7 857,108.4 857.5,108.4 858,108.6 858.5,107.5 859,105.3 859.5,107.4 860,106.1 860.5,107.7 861,108.3 861.5,101.7 862,108.9 862.5,106.6 863,108 863.5,106.1 864,106.2 864.5,109 865,108.5 865.5,109.2 866,107.6 866.5,111.3 867,110.6 867.5,110.2 868,110.6 868.5,109.6 869,107.6 869.5,111.2 870,109.7 870.5,110 871,110.3 871.5,110.7 872,110.4 872.5,109.6 873,110.2 873.5,109.9 874,111.2 874.5,109.9 875,109.8 875.5,109.3 876,109.8 876.5,109.5 877,110.5 877.5,110 878,110.6 878.5,109.8 879,110.7 879.5,111 880,111.3 880.5,109.8 881,109.4 881.5,107.1 882,110.2 882.5,110.1 883,111.3 883.5,110.7 884,110.9 884.5,111.2 885,111.1 885.5,109.8 886,109.4 886.5,111.2 887,110.6 887.5,111.2 888,111.1 888.5,110.3 889,109.8 889.5,110.4 890,110.6 890.5,109.7 891,107.5 891.5,110.9 892,111.2 892.5,110.6 893,109.6 893.5,111.4 894,110.3 894.5,110.4 895,109.3 895.5,110.6 896,109.4 896.5,111.4 897,109.6 897.5,109.8 898,110.5 898.5,110.5 899,110 899.5,111.2 900,111 900.5,110.1 901,109.4 901.5,110.8 902,111.1 902.5,111.2 903,110.6 903.5,110.9 904,109.8 904.5,111.4 905,108.3 905.5,111.3 906,110.8 906.5,110.6 907,109.3 907.5,109.4 908,110.3 908.5,110.2 909,110.3 909.5,111.3 910,109.3 910.5,108.5 911,108.7 911.5,105.4 912,108.9 912.5,109.5 913,105.4 913.5,106.1 914,105.1 914.5,109.1 915,105.3 915.5,105.5 916,108.1 916.5,105.3 917,108.3 917.5,107.9 918,106.5 918.5,106.3 919,108.8 919.5,105.3 920,105.8 920.5,108.3 921,106.6 921.5,105.9 922,101.1 922.5,107.7 923,107.6 923.5,106.1 924,108.1 924.5,105.3 925,108.5 925.5,109 926,107.3 926.5,107 927,107.5 927.5,107.5 928,107.7 928.5,105.7 929,105.1 929.5,106.8 930,108.3 930.5,108.9 931,109.1 931.5,109.1 932,108.8 932.5,105.6 933,109 933.5,106.5 934,108.2 934.5,107.6 935,106.4 935.5,105.1 936,107.5 936.5,106.1 937,105.8 937.5,105.8 938,107 938.5,104.9 939,106.5 939.5,108.2 940,106 940.5,106.1 941,107.4 941.5,101.1 942,105.9 942.5,105.7 943,105.8 943.5,106.6 944,109.4 944.5,109.2 945,106.8 945.5,108.1 946,105 946.5,107.6 947,107.4 947.5,106.3 948,105.8 948.5,105.4 949,108 949.5,108.6 950,109.1 950.5,108.2 951,109 951.5,105.6 952,106.3 952.5,106 953,105.2 953.5,107.5 954,108.1 954.5,108.5 955,106.1 955.5,105.9 956,107.1 956.5,106.5 957,107.4 957.5,109.9 958,110.5 958.5,111.2 959,110.7 959.5,111.2 960,108.9 960.5,110.8 961,110.7 961.5,110.4 962,110.5 962.5,110.7 963,111 963.5,111.2 964,111.2 964.5,111.3 965,109.9 965.5,110.1 966,110.7 966.5,110.6 967,110.6 967.5,109.8 968,111 968.5,110.8 969,108.9 969.5,110 970,110.3 970.5,110.7 971,111.3 971.5,111.3 972,109.7 972.5,111 973,111.3 973.5,109.4 974,111 974.5,107.9 975,109.6 975.5,109.4 976,110.8 976.5,111.1 977,109.3 977.5,110.1 978,110 978.5,111.1 979,111.4 979.5,110 980,111 980.5,109.9 981,110 981.5,110.4 982,110.7 982.5,110.7 983,110.7 983.5,110 984,111 984.5,108.7 985,111.1 985.5,110.6 986,110.9 986.5,110.8 987,110 987.5,109.7 988,110.3 988.5,110.6 989,109.4 989.5,110.9 990,109.8 990.5,109.8 991,110.4 991.5,109.9 992,110 992.5,111.1 993,109.3 993.5,110.5 994,110.7 994.5,110 995,110.3 995.5,111.3 996,111.3 996.5,110.8 997,110.2 997.5,109.5 998,111.1 998.5,110.6 999,110.4 999.5,111.1 1000,109.7 1000.5,109.3 1001,111.4 1001.5,107.9 1002,110.4 1002.5,109.3 1003,110.5 1003,115.7 1002.5,115.8 1002,116.6 1001.5,116.4 1001,115.2 1000.5,114.7 1000,115.8 999.5,116.3 999,114.9 998.5,115.1 998,115.3 997.5,115.4 997,116.5 996.5,116.4 996,115 995.5,116.7 995,115.7 994.5,116.5 994,116.3 993.5,116.6 993,116.3 992.5,115.7 992,115.8 991.5,116.7 991,115.8 990.5,116.3 990,115.1 989.5,115.9 989,116.1 988.5,115.9 988,116 987.5,118.9 987,116.2 986.5,115.6 986,115.2 985.5,118 985,115.5 984.5,115.2 984,115.9 983.5,114.9 983,115.2 982.5,115.8 982,115.6 981.5,115.8 981,116.1 980.5,116.2 980,116.6 979.5,115.9 979,115.3 978.5,114.6 978,116.5 977.5,115.3 977,115.7 976.5,114.8 976,114.7 975.5,115.8 975,116.4 974.5,115.7 974,115.2 973.5,116.4 973,114.8 972.5,116.7 972,115.6 971.5,115.1 971,115.7 970.5,115.9 970,116.6 969.5,115.1 969,115.2 968.5,115.9 968,115.5 967.5,116.2 967,116.5 966.5,116.3 966,116 965.5,116.4 965,115.7 964.5,115.6 964,116 963.5,116.2 963,117.1 962.5,115.4 962,114.9 961.5,116 961,115.7 960.5,115.2 960,116.5 959.5,116.5 959,115 958.5,115.3 958,116.1 957.5,118.5 957,117.2 956.5,116.7 956,116.9 955.5,117.9 955,118.4 954.5,119.6 954,120.3 953.5,118.5 953,119.3 952.5,118.7 952,116.5 951.5,118 951,116.5 950.5,116.5 950,119.3 949.5,119 949,117.6 948.5,119.8 948,118.4 947.5,120.1 947,120.1 946.5,122 946,120.7 945.5,119.9 945,117.5 944.5,118.1 944,120.6 943.5,119.8 943,120.1 942.5,122.1 942,117 941.5,119.7 941,119.7 940.5,118.2 940,118.8 939.5,116.5 939,118.3 938.5,120.5 938,118.7 937.5,124.4 937,119.7 936.5,118.9 936,120.4 935.5,117.9 935,124.3 934.5,118.4 934,118 933.5,118.8 933,120.1 932.5,118.1 932,119.8 931.5,118.6 931,121.2 930.5,117.4 930,118.7 929.5,118.8 929,118.7 928.5,122.5 928,119.5 927.5,117.5 927,117.8 926.5,116.9 926,117 925.5,118.9 925,116.6 924.5,118.9 924,117.3 923.5,118.4 923,118 922.5,119.5 922,119.2 921.5,118.1 921,119.5 920.5,118.2 920,120.4 919.5,119.1 919,117.7 918.5,118.6 918,117.3 917.5,116.8 917,120.9 916.5,118.7 916,116.5 915.5,117 915,119.9 914.5,116.8 914,117 913.5,119.4 913,116.7 912.5,116.7 912,116.7 911.5,118.5 911,118.3 910.5,116 910,115.2 909.5,114.8 909,115.8 908.5,116.4 908,115.4 907.5,114.8 907,116.7 906.5,115.7 906,115.6 905.5,116.9 905,116.3 904.5,116.3 904,114.9 903.5,115.8 903,115.6 902.5,114.8 902,115.7 901.5,116.2 901,114.7 900.5,114.9 900,114.6 899.5,115.4 899,114.9 898.5,115.2 898,116.7 897.5,116.5 897,116.6 896.5,116.3 896,117.8 895.5,116.3 895,117.9 894.5,115.6 894,114.7 893.5,115.1 893,114.6 892.5,116.6 892,115.6 891.5,116 891,115.7 890.5,115.8 890,115.2 889.5,115.4 889,116.2 888.5,116.7 888,115.9 887.5,115.5 887,115.6 886.5,114.8 886,116.7 885.5,116.4 885,115.9 884.5,115 884,116.1 883.5,116.4 883,115.6 882.5,116 882,115.9 881.5,115 881,115.3 880.5,115.5 880,115.8 879.5,116 879,115.2 878.5,115.4 878,114.8 877.5,116.6 877,114.6 876.5,115.1 876,115.9 875.5,116.5 875,114.8 874.5,115.3 874,115.4 873.5,115.7 873,116.3 872.5,116.6 872,116.1 871.5,114.7 871,115.9 870.5,118.3 870,115.3 869.5,116.2 869,115.7 868.5,115.9 868,115.1 867.5,115.4 867,115.1 866.5,115.8 866,115.5 865.5,118.2 865,117.6 864.5,118 864,118.6 863.5,116.9 863,116.5 862.5,117.6 862,118.2 861.5,122.8 861,119.7 860.5,117.1 860,119.8 859.5,120.3 859,119.6 858.5,117.9 858,117.8 857.5,119 857,116.9 856.5,117.9 856,117.9 855.5,118.6 855,119.4 854.5,119 854,119.3 853.5,117.9 853,118.9 852.5,116.7 852,116.7 851.5,119 851,116.8 850.5,121.1 850,124.4 849.5,121.8 849,117.6 848.5,117.8 848,121.1 847.5,116.6 847,119.7 846.5,120.9 846,120.9 845.5,118.7 845,117.8 844.5,118.3 844,116.9 843.5,120.7 843,122.2 842.5,118.8 842,119.2 841.5,118.5 841,117.1 840.5,118 840,117.1 839.5,117 839,117.2 838.5,120.2 838,117.6 837.5,119.6 837,117.3 836.5,117.1 836,119.1 835.5,120.8 835,119.8 834.5,118.8 834,117.1 833.5,116.7 833,116.7 832.5,119.4 832,117.1 831.5,117.5 831,126.1 830.5,119.6 830,116.8 829.5,118 829,117.1 828.5,118.5 828,120.4 827.5,118.3 827,119.5 826.5,120.1 826,120.8 825.5,119.3 825,119 824.5,117.9 824,119.3 823.5,117.9 823,117.6 822.5,119 822,117.8 821.5,118.7 821,118 820.5,117.7 820,118.3 819.5,118.5 819,117.1 818.5,115.8 818,118.1 817.5,114.9 817,115.5 816.5,115.3 816,114.7 815.5,115.5 815,116.6 814.5,115.4 814,116.2 813.5,115.1 813,117.9 812.5,114.9 812,116.3 811.5,115.9 811,116.2 810.5,116.4 810,116.7 809.5,116.4 809,116 808.5,116.4 808,115.8 807.5,116.7 807,115.7 806.5,116.2 806,116.3 805.5,115.2 805,116 804.5,114.9 804,116.2 803.5,116.4 803,116.4 802.5,116.3 802,114.9 801.5,116.6 801,116.4 800.5,115.8 800,119 799.5,115 799,116.6 798.5,115.3 798,116.5 797.5,116.3 797,116.6 796.5,116.7 796,117.6 795.5,116.4 795,115.8 794.5,115.6 794,116.1 793.5,114.7 793,115.2 792.5,116.6 792,116.7 791.5,115.1 791,114.9 790.5,114.9 790,115.1 789.5,115.1 789,116 788.5,116.6 788,116.2Z" fill="#080808"/>
<path d="M814.7,180.5 V190 M818.1,179.7 V189 M822,178.8 V193.8 M824.2,178.9 V193.1 M827.6,180.1 V193.1 M833.3,175.5 V189.1 M836.2,176.8 V191.8 M840.3,180.2 V188.8 M842.7,181.1 V192.2 M847.3,177.9 V189.3 M850.3,180.1 V194.2 M855.8,175.7 V189 M857.5,175.6 V191.5 M862.7,179.3 V191.6 M911.6,176.9 V193.1 M913.9,174.7 V195.1 M917.4,176.7 V194.2 M921.1,178.7 V189.6 M924.5,180.2 V195.4 M928.3,174.7 V195.2 M931.1,177.1 V193.1 M934.1,172.4 V194.7 M936.9,173 V194.3 M941.1,173.8 V191.5 M944.5,173.3 V193.9 M947.5,174.2 V191.5 M950.6,179.7 V191 M953.3,180.2 V191.1 M814,181.3 V197.3 M832.5,177.3 V196.3 M845,174.3 V192.3 M917,175.3 V197.3 M922.5,171.3 V196.3 M935.5,172.3 V192.3 M940,172.3 V193.3 M948,174.3 V190.3 M1001.5,179.3 V190.3 " stroke="#56566a" stroke-width="1.15" fill="none"/>
<path d="M788,181.2 788.5,182.8 789,182.1 789.5,181.3 790,182.4 790.5,181.2 791,182.6 791.5,182.6 792,180.9 792.5,182.1 793,181.5 793.5,182.8 794,181.6 794.5,182.6 795,181.8 795.5,181.4 796,182.1 796.5,182.1 797,182.7 797.5,180.8 798,181.5 798.5,181.2 799,182 799.5,181.8 800,182.6 800.5,181.9 801,181 801.5,181.8 802,181.2 802.5,180.9 803,182 803.5,182.2 804,182.8 804.5,182.1 805,182.4 805.5,181.2 806,182.6 806.5,181.6 807,182.6 807.5,181.5 808,182.6 808.5,181 809,182.5 809.5,181.2 810,182.7 810.5,180.9 811,180.9 811.5,182.6 812,182.7 812.5,180.8 813,182.1 813.5,181.7 814,181.7 814.5,182.5 815,182 815.5,181 816,182.3 816.5,182.4 817,182 817.5,181.4 818,181.3 818.5,180.1 819,182.2 819.5,182.4 820,181.1 820.5,180.7 821,182.2 821.5,180.2 822,180.9 822.5,180.4 823,181 823.5,180 824,181 824.5,180.9 825,180.1 825.5,182.1 826,180.4 826.5,182.2 827,181.5 827.5,181.3 828,182 828.5,180.1 829,181 829.5,180.8 830,180.3 830.5,180.4 831,181.6 831.5,181.7 832,180.2 832.5,180.2 833,181.2 833.5,180 834,180.9 834.5,182.2 835,181.2 835.5,182.3 836,181.6 836.5,182.1 837,180.7 837.5,181.4 838,180.1 838.5,181.4 839,181.4 839.5,181.5 840,181.6 840.5,179.5 841,180.4 841.5,180 842,182.3 842.5,180 843,181.1 843.5,181.4 844,180.6 844.5,180.3 845,182.4 845.5,182.1 846,180.3 846.5,182.3 847,182 847.5,181.1 848,181.4 848.5,181.8 849,180.9 849.5,180.1 850,180 850.5,181.8 851,181.2 851.5,181.2 852,181.8 852.5,180.4 853,181.3 853.5,182.4 854,182.1 854.5,180.3 855,182.2 855.5,181.8 856,182.4 856.5,180.8 857,181 857.5,180.8 858,181.1 858.5,182 859,181.5 859.5,180.3 860,180.2 860.5,181.6 861,181.7 861.5,180.3 862,181.3 862.5,182.5 863,180.9 863.5,181.2 864,181.3 864.5,181.6 865,180.7 865.5,182.1 866,181.6 866.5,182.1 867,182.7 867.5,181.8 868,178.7 868.5,180.8 869,182.1 869.5,182.4 870,182.4 870.5,179.7 871,181.1 871.5,181.5 872,181.7 872.5,181.9 873,182.2 873.5,182.8 874,182.4 874.5,181.6 875,181.1 875.5,182.4 876,182 876.5,182.3 877,182.2 877.5,182 878,181.6 878.5,181.5 879,181.9 879.5,178.8 880,182.1 880.5,181 881,181.5 881.5,180.8 882,181.6 882.5,182.8 883,181.1 883.5,181.1 884,181.6 884.5,182.5 885,182.5 885.5,181.6 886,182 886.5,181.6 887,181.7 887.5,182.6 888,182.6 888.5,181.4 889,182.4 889.5,182.8 890,182.8 890.5,181.3 891,182.8 891.5,182.3 892,182.3 892.5,182.6 893,182.7 893.5,181.7 894,182.1 894.5,182 895,182.4 895.5,182.3 896,181.1 896.5,182.5 897,182.7 897.5,181.1 898,182.4 898.5,179.4 899,181.5 899.5,180.9 900,181.7 900.5,181.5 901,181.6 901.5,178.8 902,182.6 902.5,182.6 903,182 903.5,181.2 904,181 904.5,182.6 905,182.2 905.5,182.3 906,181.7 906.5,180.8 907,181.8 907.5,182.5 908,182.4 908.5,181.5 909,182.2 909.5,182.5 910,181.5 910.5,179.4 911,181.1 911.5,181.1 912,180.3 912.5,182.4 913,182.1 913.5,181.9 914,180.4 914.5,181.6 915,181.7 915.5,180.6 916,180.2 916.5,181 917,182.4 917.5,182.2 918,182.3 918.5,178.4 919,180.2 919.5,181 920,180.1 920.5,181.6 921,180.2 921.5,180.8 922,178.2 922.5,180.1 923,180.8 923.5,180 924,181.4 924.5,180.2 925,180.4 925.5,180 926,180 926.5,182.4 927,182 927.5,181.1 928,181 928.5,181.2 929,181.4 929.5,181.9 930,181.4 930.5,180.6 931,181.8 931.5,181.7 932,181 932.5,181.7 933,180.4 933.5,180.5 934,180.3 934.5,182.1 935,180.9 935.5,181.1 936,181.2 936.5,180.3 937,181 937.5,181.3 938,182.1 938.5,181.2 939,182.2 939.5,180.5 940,179.5 940.5,180 941,181.2 941.5,180.1 942,181.7 942.5,180.2 943,181.5 943.5,180.1 944,182.4 944.5,180.9 945,182.1 945.5,181.3 946,180.4 946.5,182 947,180.1 947.5,180.7 948,182.3 948.5,182.5 949,180.6 949.5,181.7 950,181.7 950.5,182 951,178.7 951.5,181.1 952,182.3 952.5,182.1 953,181.9 953.5,182.2 954,182 954.5,180.3 955,181.4 955.5,180.2 956,182.1 956.5,181.2 957,181.7 957.5,182.4 958,182.2 958.5,182.5 959,182.8 959.5,181.9 960,182.6 960.5,181.3 961,182.8 961.5,182.6 962,182.1 962.5,181.1 963,181.9 963.5,181.1 964,181.8 964.5,179 965,182.3 965.5,180.9 966,181.3 966.5,182.4 967,181.8 967.5,182.5 968,182.5 968.5,182.5 969,181.4 969.5,181.4 970,181.9 970.5,180.8 971,181.3 971.5,182.1 972,181.3 972.5,182.4 973,180.9 973.5,181.1 974,181 974.5,182.4 975,181.5 975.5,182.5 976,182.6 976.5,182 977,181.1 977.5,181.1 978,180.9 978.5,182 979,181.7 979.5,181.4 980,181.9 980.5,181.9 981,181 981.5,179.7 982,178.8 982.5,180.9 983,182.1 983.5,181.6 984,180.8 984.5,180.7 985,181.3 985.5,182.3 986,181.8 986.5,182.2 987,182.3 987.5,182.7 988,182.4 988.5,182.2 989,181.4 989.5,181.8 990,182.5 990.5,181.1 991,182.2 991.5,180.9 992,179.8 992.5,181.9 993,180.9 993.5,181.5 994,180.9 994.5,182.4 995,181.8 995.5,181.3 996,182.5 996.5,180.9 997,182.5 997.5,182.2 998,180.9 998.5,180.9 999,180.3 999.5,182.8 1000,182.3 1000.5,182.1 1001,181.5 1001.5,181.5 1002,182.6 1002.5,181.3 1003,181.6 1003,187 1002.5,186.4 1002,186.4 1001.5,186.2 1001,186.7 1000.5,186.8 1000,187.7 999.5,186.2 999,186.4 998.5,186.8 998,187.3 997.5,186.1 997,187 996.5,186 996,186 995.5,186.3 995,187.4 994.5,187 994,186.1 993.5,188.2 993,188.8 992.5,186.4 992,186.2 991.5,187.5 991,186.7 990.5,187.6 990,187.6 989.5,187.6 989,187.6 988.5,186.3 988,187.1 987.5,186.8 987,187.5 986.5,186.4 986,186.2 985.5,187.6 985,186.4 984.5,186.1 984,187.7 983.5,186.6 983,186.9 982.5,187.1 982,186.4 981.5,187.1 981,187.3 980.5,186.8 980,186.4 979.5,186.5 979,187.8 978.5,187.1 978,186.5 977.5,186 977,187.4 976.5,185.9 976,188.9 975.5,187.5 975,185.8 974.5,186 974,187.6 973.5,187.4 973,186.3 972.5,185.8 972,186.5 971.5,188.5 971,186.4 970.5,187.1 970,186.4 969.5,187.5 969,186.9 968.5,186.1 968,186.9 967.5,186.9 967,186.1 966.5,187.6 966,185.9 965.5,187.2 965,187.4 964.5,186.9 964,186.5 963.5,186 963,187.4 962.5,187.1 962,187.7 961.5,187.2 961,187.1 960.5,187.1 960,185.9 959.5,186.4 959,188 958.5,186.6 958,187.6 957.5,187.8 957,186.8 956.5,187 956,187.6 955.5,187.1 955,187.3 954.5,187.9 954,186.6 953.5,186.3 953,186.6 952.5,187.1 952,187.5 951.5,186.9 951,187.8 950.5,187.9 950,188.4 949.5,188.5 949,186.1 948.5,186.9 948,186.4 947.5,188.2 947,188 946.5,186.7 946,187.5 945.5,187.8 945,188.3 944.5,187.3 944,188.2 943.5,186.2 943,186.6 942.5,187.9 942,187.4 941.5,187.4 941,186.7 940.5,187.7 940,186.4 939.5,187.1 939,188.9 938.5,186.2 938,189.8 937.5,186.6 937,186.8 936.5,187.1 936,190.2 935.5,188.5 935,191 934.5,187.7 934,187.3 933.5,187.8 933,186.8 932.5,187.9 932,188.6 931.5,187.7 931,186.6 930.5,188.3 930,187.3 929.5,187.4 929,187.2 928.5,186.3 928,188.4 927.5,187.7 927,188.2 926.5,187.1 926,186.5 925.5,188.3 925,187.8 924.5,186.2 924,187 923.5,188.2 923,187.6 922.5,186.1 922,186.7 921.5,188.4 921,186.8 920.5,187.5 920,186.8 919.5,187.7 919,186.5 918.5,190.7 918,187.4 917.5,186.4 917,187.5 916.5,188.2 916,188.3 915.5,187.9 915,187.8 914.5,190.7 914,187.6 913.5,188.6 913,186.6 912.5,186.3 912,186.2 911.5,187.3 911,188.2 910.5,188 910,185.8 909.5,186.1 909,187.3 908.5,187.2 908,187.5 907.5,187.5 907,186.9 906.5,187.4 906,187.6 905.5,187.3 905,188.1 904.5,185.8 904,186.3 903.5,186.7 903,186.4 902.5,187.2 902,185.8 901.5,186.4 901,189.8 900.5,187.3 900,187.6 899.5,188.7 899,187.5 898.5,185.9 898,187.1 897.5,187.7 897,186.2 896.5,186.7 896,187.2 895.5,186.8 895,187 894.5,187.1 894,187.8 893.5,186 893,186.4 892.5,187.4 892,187.6 891.5,186.1 891,187.1 890.5,187 890,187.6 889.5,188.7 889,187.2 888.5,186 888,186.8 887.5,187.7 887,187 886.5,186.4 886,186.8 885.5,187.4 885,186 884.5,186.5 884,186.8 883.5,185.9 883,187.3 882.5,186.5 882,186.2 881.5,187 881,186 880.5,186.3 880,186.1 879.5,187.5 879,185.8 878.5,185.8 878,187.1 877.5,186.4 877,187.2 876.5,186.7 876,185.9 875.5,187.2 875,187.6 874.5,186.8 874,186.6 873.5,186 873,186.9 872.5,189.2 872,186.8 871.5,186.2 871,185.9 870.5,187.1 870,187.8 869.5,187.4 869,187.3 868.5,186.6 868,186 867.5,187.7 867,185.8 866.5,186.7 866,186.6 865.5,187.6 865,187.4 864.5,187.7 864,186.3 863.5,187 863,187.7 862.5,188.3 862,186.9 861.5,186.5 861,187.6 860.5,188.4 860,187 859.5,187 859,187.5 858.5,188.4 858,187.7 857.5,186.5 857,186.6 856.5,187.6 856,186.7 855.5,186.5 855,187.1 854.5,186.4 854,188.1 853.5,186.2 853,187.9 852.5,187.9 852,186.9 851.5,187.9 851,186.3 850.5,187.7 850,187.5 849.5,186.9 849,188.2 848.5,187.7 848,187.6 847.5,187 847,188.4 846.5,188.3 846,186.7 845.5,186.3 845,186.1 844.5,187.3 844,189.8 843.5,191.1 843,187 842.5,188.2 842,186.4 841.5,188.5 841,187.6 840.5,187.1 840,188.2 839.5,187.7 839,186.3 838.5,188.3 838,187.7 837.5,188.1 837,187.2 836.5,186.6 836,186.5 835.5,188.5 835,186.4 834.5,187.6 834,188.1 833.5,188.2 833,188 832.5,188.2 832,186.3 831.5,186.3 831,190.6 830.5,187 830,186.5 829.5,188.1 829,187.3 828.5,188.1 828,187.2 827.5,186.8 827,187.6 826.5,187.2 826,186.3 825.5,187.2 825,188.9 824.5,188.5 824,187.6 823.5,187.9 823,186.7 822.5,188 822,186.8 821.5,188 821,187.6 820.5,188.3 820,188.4 819.5,187.5 819,187.9 818.5,186.1 818,188 817.5,187.1 817,187.8 816.5,186.4 816,186.9 815.5,186.6 815,186.2 814.5,186.4 814,186.8 813.5,186.7 813,185.9 812.5,187.3 812,187.2 811.5,187.4 811,188.1 810.5,186 810,187.4 809.5,186.7 809,187.7 808.5,186.7 808,187 807.5,187.2 807,187.1 806.5,186.1 806,186.5 805.5,187.4 805,187.7 804.5,187.7 804,187.4 803.5,186.7 803,186.8 802.5,186.5 802,186.4 801.5,186.1 801,187 800.5,187.7 800,187 799.5,189.2 799,186 798.5,186.8 798,187.6 797.5,186.3 797,186.6 796.5,186.6 796,187.6 795.5,186.7 795,186.1 794.5,187.1 794,186 793.5,186.5 793,187.2 792.5,187.7 792,187 791.5,186.2 791,187.4 790.5,187.2 790,186.9 789.5,186.6 789,187.3 788.5,187.1 788,187.4Z" fill="#080808"/>
<path d="M824.5,250 V264 M855,247 V270 M873.5,245 V270 M897.5,246 V258 M904.5,248 V272 M959,250 V263 M965.5,249 V269 M989,250 V261 M997,250 V270 M793,250 V260 M820.8,249.1 V257.2 M826.5,249 V257.7 M830.5,249.3 V258.7 M834.5,248 V259.2 M840.2,248.7 V260.9 M843,249.2 V259.7 M848.5,249.8 V256.3 M853.1,249.9 V256.5 M858.1,248.3 V258.8 M863.6,248.1 V258.8 M910.3,249.7 V258.4 M913.3,249.8 V258.3 M919.8,249.1 V256.5 M928.1,250.7 V257.5 M935.3,250.9 V258.8 M941.1,249.9 V257.8 M947.5,250.4 V258 M954.9,250.4 V258.1 " stroke="#56566a" stroke-width="1.15" fill="none"/>
<path d="M788,250.9 788.5,249 789,251.5 789.5,250.7 790,250.3 790.5,249.7 791,251.3 791.5,251.2 792,249 792.5,250.2 793,250.7 793.5,251.1 794,250.1 794.5,250.8 795,251.5 795.5,249.9 796,250.4 796.5,250.6 797,250.3 797.5,249.5 798,250.2 798.5,251.3 799,251.4 799.5,250 800,250.9 800.5,251.2 801,248.9 801.5,250.8 802,250.6 802.5,249.8 803,250.8 803.5,251.4 804,249.7 804.5,250.4 805,250.4 805.5,250.9 806,250.7 806.5,250.9 807,251.5 807.5,250.5 808,249.9 808.5,251.2 809,250.9 809.5,249.9 810,251.1 810.5,251.5 811,249.7 811.5,249.7 812,251.2 812.5,249.9 813,251.4 813.5,250.1 814,250.9 814.5,250.8 815,251.3 815.5,251.3 816,250.9 816.5,249.7 817,250.7 817.5,251.1 818,251.1 818.5,250.9 819,250.7 819.5,250.5 820,251.6 820.5,250.2 821,250.5 821.5,251.1 822,250.5 822.5,250.4 823,250.7 823.5,250.2 824,250.5 824.5,251.3 825,251.4 825.5,251.3 826,249.8 826.5,250.8 827,251.3 827.5,251.2 828,249 828.5,250.4 829,250 829.5,251.5 830,250.7 830.5,251.3 831,251.4 831.5,251.4 832,251.4 832.5,250.7 833,251 833.5,250.4 834,251 834.5,250.6 835,251.1 835.5,251.2 836,250 836.5,250.8 837,250.9 837.5,249.4 838,251.4 838.5,251.4 839,251 839.5,251.3 840,249.7 840.5,249.7 841,250.6 841.5,251.6 842,251.5 842.5,250.4 843,250.2 843.5,249.6 844,251.5 844.5,250.1 845,250.6 845.5,250.4 846,251.1 846.5,251.4 847,250.3 847.5,250 848,250.3 848.5,251.4 849,250.1 849.5,250.6 850,250.3 850.5,250.1 851,251.5 851.5,250.3 852,250.7 852.5,247.7 853,250 853.5,251.2 854,251.3 854.5,250 855,251.1 855.5,251.6 856,251.3 856.5,251.6 857,249.8 857.5,250.8 858,250.9 858.5,251.4 859,251.1 859.5,250.8 860,250.3 860.5,250.2 861,250.1 861.5,249.8 862,251 862.5,250.3 863,251.2 863.5,250.6 864,250.7 864.5,250.9 865,250.5 865.5,250.8 866,251.4 866.5,250.6 867,251 867.5,249.7 868,251.5 868.5,250.4 869,250 869.5,251.4 870,249.7 870.5,249.3 871,251.1 871.5,251.3 872,251.4 872.5,250.8 873,251 873.5,249.8 874,249.7 874.5,250.6 875,250.3 875.5,250.9 876,250 876.5,249.7 877,251.1 877.5,250.6 878,250.3 878.5,251.2 879,251.5 879.5,250.1 880,251.2 880.5,250.3 881,251.2 881.5,249.7 882,250.9 882.5,251.5 883,251.2 883.5,250.8 884,251.5 884.5,250.1 885,249.7 885.5,249.7 886,249.8 886.5,251.1 887,250.8 887.5,249.8 888,250 888.5,250.9 889,251.2 889.5,251.5 890,249.8 890.5,251.4 891,251.1 891.5,250.1 892,249.9 892.5,250.1 893,251.3 893.5,250.8 894,250 894.5,250.6 895,251.5 895.5,249.7 896,249.9 896.5,249.7 897,251.1 897.5,251.1 898,251.5 898.5,251 899,251.4 899.5,250.3 900,250.8 900.5,251 901,249.9 901.5,248.4 902,250.7 902.5,249.3 903,250.3 903.5,250.8 904,250.6 904.5,250 905,249.7 905.5,249.8 906,250 906.5,250.8 907,251.1 907.5,251.3 908,251.5 908.5,249.9 909,250.3 909.5,250.7 910,251.5 910.5,250.1 911,250.6 911.5,251.4 912,250.3 912.5,250.6 913,249.7 913.5,250.1 914,250.6 914.5,250 915,250.1 915.5,250 916,251.2 916.5,251.5 917,250.2 917.5,251.3 918,249.9 918.5,251.4 919,250 919.5,250.9 920,250.1 920.5,250.3 921,249.7 921.5,250.4 922,251.3 922.5,251.6 923,251.1 923.5,250.4 924,251.1 924.5,249.9 925,251.5 925.5,250.3 926,249.9 926.5,249.4 927,251.5 927.5,251.2 928,250 928.5,251.5 929,251.6 929.5,250.1 930,251.1 930.5,250.2 931,250.5 931.5,251.1 932,249.9 932.5,250.1 933,249.9 933.5,250.3 934,250.7 934.5,250.7 935,251.2 935.5,251.3 936,249.6 936.5,250.2 937,251.4 937.5,250 938,249.8 938.5,251.4 939,250.3 939.5,251.4 940,249.7 940.5,251 941,249.7 941.5,251.5 942,250.9 942.5,249.9 943,251.6 943.5,251.6 944,251.2 944.5,251.1 945,250.2 945.5,251.4 946,250.3 946.5,249.8 947,251.2 947.5,250.8 948,250.5 948.5,250.9 949,250.3 949.5,250.1 950,249.8 950.5,250.2 951,251.1 951.5,250.9 952,251.4 952.5,249.7 953,251.2 953.5,250.8 954,250.2 954.5,251.3 955,249.8 955.5,250.7 956,250.1 956.5,250.3 957,251.4 957.5,250.3 958,250.4 958.5,251.2 959,249.2 959.5,251.3 960,251.4 960.5,250.6 961,250.8 961.5,250.8 962,250.9 962.5,251.5 963,250.9 963.5,249.7 964,250.8 964.5,250 965,251.1 965.5,250 966,250.5 966.5,249.9 967,249.4 967.5,251 968,250.7 968.5,247.8 969,249.8 969.5,248.7 970,250.3 970.5,251.1 971,249.8 971.5,250.4 972,250 972.5,250.5 973,250.5 973.5,250.6 974,250.6 974.5,251.6 975,250.3 975.5,249.7 976,251.5 976.5,250.9 977,249.8 977.5,250.9 978,250.5 978.5,250.7 979,250 979.5,250.6 980,250.9 980.5,248.7 981,247.9 981.5,251.6 982,250.3 982.5,250.4 983,250.2 983.5,250.1 984,250.1 984.5,250 985,251 985.5,248.7 986,251.5 986.5,247.8 987,250.4 987.5,250.8 988,250.2 988.5,251.3 989,251.3 989.5,248.4 990,250.2 990.5,250.3 991,251.1 991.5,251.5 992,251 992.5,250.6 993,250.7 993.5,250.9 994,250.8 994.5,250.5 995,250.2 995.5,249.7 996,250.7 996.5,250.4 997,251.6 997.5,248.2 998,250 998.5,249.9 999,250.9 999.5,251.2 1000,250.4 1000.5,251.1 1001,251.4 1001.5,250.4 1002,250.6 1002.5,251.2 1003,250.8 1003,256.9 1002.5,255.8 1002,255.6 1001.5,256.2 1001,256 1000.5,255.9 1000,255.8 999.5,255.9 999,254.6 998.5,256 998,256.1 997.5,256.2 997,254.9 996.5,256.2 996,256.2 995.5,256.1 995,256 994.5,255 994,256 993.5,255.7 993,255.7 992.5,254.5 992,255.9 991.5,255.7 991,258.3 990.5,255.8 990,256.1 989.5,254.8 989,254.5 988.5,256.3 988,254.5 987.5,254.6 987,256.3 986.5,255.3 986,254.7 985.5,256.3 985,255.3 984.5,256 984,256.2 983.5,255.6 983,254.8 982.5,255.7 982,256 981.5,254.8 981,255.5 980.5,256 980,255 979.5,256.3 979,255.2 978.5,255.5 978,255.9 977.5,256.1 977,254.5 976.5,256.3 976,255.6 975.5,254.6 975,256.1 974.5,256.1 974,255.4 973.5,254.5 973,254.9 972.5,255.9 972,256.1 971.5,256 971,256 970.5,255.9 970,254.9 969.5,254.5 969,256 968.5,256.1 968,255.7 967.5,254.9 967,254.8 966.5,255 966,254.7 965.5,256 965,256.3 964.5,255.7 964,254.8 963.5,255.5 963,254.9 962.5,255.2 962,254.5 961.5,255.9 961,256.3 960.5,255.7 960,255.6 959.5,256 959,256.3 958.5,255.7 958,255.2 957.5,254.9 957,255.2 956.5,255.3 956,255.8 955.5,254.9 955,255.3 954.5,255.6 954,255.4 953.5,254.5 953,255.7 952.5,256 952,256.3 951.5,254.8 951,255.1 950.5,256.1 950,254.9 949.5,255.6 949,255.9 948.5,255.1 948,255.9 947.5,256.2 947,254.9 946.5,255.6 946,255.1 945.5,256 945,255.4 944.5,256.3 944,255.4 943.5,255.4 943,254.8 942.5,254.6 942,255.8 941.5,255.2 941,255.4 940.5,255.8 940,255.3 939.5,254.6 939,256 938.5,254.5 938,256.3 937.5,256.2 937,255.6 936.5,255.7 936,255.7 935.5,254.5 935,255.6 934.5,255.8 934,256.1 933.5,255.8 933,255.1 932.5,256.3 932,254.5 931.5,255.7 931,255.3 930.5,256.1 930,254.5 929.5,255.3 929,256.1 928.5,256.2 928,254.8 927.5,255.6 927,255.5 926.5,254.9 926,256.2 925.5,255.3 925,255.7 924.5,256 924,254.7 923.5,255.4 923,255.6 922.5,255.1 922,256 921.5,255.3 921,254.4 920.5,256.3 920,254.5 919.5,255.9 919,254.9 918.5,256.4 918,255.5 917.5,255.5 917,256.2 916.5,254.8 916,254.9 915.5,254.7 915,254.7 914.5,256.2 914,256.3 913.5,256 913,254.7 912.5,254.5 912,254.6 911.5,256.7 911,254.6 910.5,256 910,255.6 909.5,255.7 909,255 908.5,254.7 908,257 907.5,254.9 907,255.2 906.5,256.1 906,254.7 905.5,255.2 905,258.3 904.5,256.3 904,256.2 903.5,255.4 903,256.2 902.5,254.7 902,256 901.5,254.8 901,256.4 900.5,255.5 900,255 899.5,254.6 899,254.6 898.5,254.8 898,255.1 897.5,255.6 897,255.1 896.5,254.6 896,255.3 895.5,255.6 895,255 894.5,256 894,255.7 893.5,256.4 893,256.2 892.5,254.8 892,255 891.5,256.1 891,255.2 890.5,255.4 890,256.4 889.5,255.5 889,255.9 888.5,255.1 888,255.9 887.5,254.8 887,254.9 886.5,255.4 886,257.3 885.5,255 885,255.6 884.5,256.2 884,254.6 883.5,257.8 883,256.4 882.5,255.4 882,256 881.5,254.7 881,254.4 880.5,255.2 880,258.2 879.5,256.4 879,255.2 878.5,258.3 878,256.3 877.5,254.8 877,255.9 876.5,255 876,255.9 875.5,255.3 875,258.2 874.5,255.7 874,257.5 873.5,255.4 873,255.3 872.5,256 872,254.6 871.5,254.9 871,256.2 870.5,255.5 870,255.8 869.5,254.7 869,256.1 868.5,254.4 868,255.8 867.5,257.9 867,254.9 866.5,255.7 866,255 865.5,255.5 865,256.2 864.5,254.6 864,254.7 863.5,254.9 863,254.7 862.5,255 862,255.9 861.5,254.7 861,257.3 860.5,254.5 860,256.2 859.5,256.3 859,254.9 858.5,256.1 858,256.6 857.5,255.2 857,255.8 856.5,255.9 856,255.1 855.5,255.4 855,258.1 854.5,255.4 854,255.5 853.5,256.3 853,256.3 852.5,256.3 852,254.7 851.5,255 851,255 850.5,256.2 850,254.6 849.5,255.8 849,256.3 848.5,254.9 848,254.6 847.5,255.9 847,257.4 846.5,256.1 846,254.5 845.5,256.2 845,256.1 844.5,256 844,256.1 843.5,254.7 843,256.1 842.5,255.5 842,254.5 841.5,254.9 841,255.4 840.5,255.1 840,255.5 839.5,255.3 839,254.9 838.5,256.1 838,255.9 837.5,255.1 837,256.1 836.5,255.4 836,255.3 835.5,255.4 835,254.5 834.5,255.8 834,255 833.5,254.7 833,254.7 832.5,255.1 832,256.1 831.5,256.3 831,254.5 830.5,256.2 830,256.2 829.5,255.9 829,256.3 828.5,255.4 828,255.3 827.5,256.3 827,255.3 826.5,255.4 826,256.3 825.5,255.8 825,255.7 824.5,255.3 824,256.3 823.5,256.1 823,255.5 822.5,255.4 822,255.9 821.5,255 821,256 820.5,255.5 820,256 819.5,254.5 819,256.2 818.5,255.3 818,255.2 817.5,255 817,256.1 816.5,255.7 816,257 815.5,256 815,254.7 814.5,256.3 814,256 813.5,255.4 813,255.7 812.5,255.4 812,254.8 811.5,255.1 811,255.3 810.5,255 810,256.9 809.5,256 809,254.9 808.5,255.9 808,255.8 807.5,254.5 807,256.3 806.5,254.9 806,255.4 805.5,254.7 805,254.7 804.5,255.1 804,254.5 803.5,254.6 803,255.2 802.5,256 802,257.2 801.5,255.5 801,254.9 800.5,254.9 800,256.2 799.5,256.1 799,255.3 798.5,254.9 798,254.7 797.5,255.7 797,256.4 796.5,255.7 796,255.3 795.5,255 795,255.7 794.5,255.9 794,255 793.5,255.6 793,255 792.5,255.3 792,254.6 791.5,255.6 791,254.7 790.5,254.5 790,256.3 789.5,256 789,255.3 788.5,255.1 788,254.7Z" fill="#080808"/>
<path d="M824.5,316.3 V335.3 M831.5,313.3 V335.3 M853.5,313.3 V334.3 M959.5,313.3 V335.3 M806,317.3 V329.3 M862,317.3 V328.3 M914,318.3 V327.3 M795,318.3 V325 M806.2,318 V326.6 M822.3,316.5 V326.5 M832.8,316.3 V327.1 M846.2,316.5 V325.6 M862.7,316.4 V325 M876.3,316.4 V326.5 M889.1,316.3 V326.8 M903.4,318.1 V326.2 M915.5,317.9 V324.5 M929.3,318.1 V325.6 M943.7,317.4 V325.1 M956.3,317.5 V326.6 M969.1,316.3 V327.2 M984,317.8 V324.6 M998.5,316.7 V326.2 " stroke="#56566a" stroke-width="1.15" fill="none"/>
<path d="M788,319.4 788.5,319.6 789,318.5 789.5,319.4 790,319.8 790.5,319 791,319.7 791.5,319.1 792,318 792.5,317.9 793,318.6 793.5,319.1 794,319.6 794.5,318.1 795,318.7 795.5,318.8 796,319.8 796.5,319.1 797,319 797.5,319.4 798,318.3 798.5,319.3 799,318.6 799.5,319.6 800,318.8 800.5,319.8 801,318.3 801.5,318.1 802,317.9 802.5,319.5 803,318.6 803.5,319.6 804,318.9 804.5,319 805,318.9 805.5,318.6 806,319.6 806.5,318.4 807,316.5 807.5,318 808,319.4 808.5,319.1 809,318.5 809.5,318.1 810,318.1 810.5,318.1 811,318.2 811.5,318.8 812,319.7 812.5,319.6 813,318.2 813.5,319 814,318.3 814.5,318.1 815,319 815.5,318 816,318.4 816.5,318 817,318.1 817.5,318 818,318.1 818.5,319.2 819,318.8 819.5,319.5 820,318.2 820.5,319.5 821,318.7 821.5,319.2 822,318.7 822.5,319.5 823,318.3 823.5,318.6 824,318 824.5,318.8 825,319.2 825.5,318.1 826,317.9 826.5,318.3 827,319 827.5,319.1 828,318.4 828.5,319.6 829,317.9 829.5,318.6 830,317.9 830.5,319.3 831,318.2 831.5,319.5 832,319.7 832.5,318.7 833,318.2 833.5,318.1 834,318.5 834.5,318.6 835,318.9 835.5,318.4 836,319.6 836.5,318.5 837,319.6 837.5,319.2 838,317.1 838.5,319.1 839,319.8 839.5,318.8 840,318 840.5,318.4 841,318.6 841.5,319.4 842,318.4 842.5,319.3 843,319.4 843.5,318.2 844,318.8 844.5,319.6 845,318.4 845.5,318.6 846,318.2 846.5,319.4 847,318.4 847.5,317.8 848,318.1 848.5,319.6 849,318.9 849.5,318 850,317.9 850.5,318.8 851,317.8 851.5,318.5 852,319.2 852.5,318.2 853,318.8 853.5,318.7 854,318.8 854.5,318.2 855,318.8 855.5,318.7 856,319.4 856.5,319.1 857,319.3 857.5,318.4 858,318.7 858.5,319.4 859,318.8 859.5,318.3 860,318.8 860.5,319.1 861,318.8 861.5,319.8 862,318.8 862.5,318.9 863,319.7 863.5,318.7 864,317.9 864.5,319.1 865,318.1 865.5,318 866,318.1 866.5,317.9 867,319.7 867.5,318.3 868,318.6 868.5,318.5 869,318.4 869.5,317.2 870,318.4 870.5,319.1 871,319.1 871.5,318 872,319 872.5,319.5 873,318 873.5,318.6 874,316.9 874.5,318.1 875,319.2 875.5,319.8 876,319.5 876.5,319.1 877,319.5 877.5,318.3 878,318.1 878.5,319.8 879,319.8 879.5,317.9 880,318.1 880.5,319.7 881,319.4 881.5,318.9 882,318.6 882.5,319.6 883,318.8 883.5,318.1 884,318.7 884.5,319.1 885,319 885.5,318.6 886,319.5 886.5,319.7 887,318.7 887.5,319.7 888,318.6 888.5,319.6 889,319.7 889.5,319.5 890,318 890.5,319.8 891,318.5 891.5,318 892,319.7 892.5,318.9 893,319 893.5,318.5 894,319.7 894.5,318.9 895,318.8 895.5,319.7 896,319.3 896.5,318.1 897,319 897.5,319.2 898,318.8 898.5,319 899,318.9 899.5,318.7 900,319.8 900.5,319.2 901,318.8 901.5,319.2 902,318.3 902.5,319 903,317.8 903.5,318 904,319.2 904.5,319.8 905,318.1 905.5,319.6 906,319.4 906.5,319.7 907,318.5 907.5,318.9 908,317.9 908.5,319 909,318.9 909.5,317.8 910,319 910.5,318.7 911,317.8 911.5,318.3 912,316.8 912.5,319.5 913,317.1 913.5,318.8 914,319.1 914.5,319.7 915,319.2 915.5,317.9 916,319.8 916.5,318.6 917,319.4 917.5,318.4 918,318.2 918.5,318.8 919,318.4 919.5,319.4 920,318.6 920.5,318.5 921,318.9 921.5,319.5 922,319.8 922.5,319.7 923,319.8 923.5,319 924,317.9 924.5,318.9 925,319 925.5,317.9 926,318.7 926.5,318.7 927,318.1 927.5,318.7 928,318.6 928.5,318.4 929,317.9 929.5,319 930,317.9 930.5,319.5 931,318.5 931.5,318 932,319.5 932.5,318.9 933,318.8 933.5,318.9 934,318.4 934.5,319.2 935,318.7 935.5,318.3 936,318.7 936.5,318.6 937,319.3 937.5,318.4 938,318.7 938.5,319.2 939,319.6 939.5,319.5 940,319.3 940.5,318.3 941,318.2 941.5,318.5 942,319.2 942.5,317.8 943,318.4 943.5,318.5 944,319.5 944.5,317.8 945,318.7 945.5,318.1 946,318.7 946.5,318.7 947,318.3 947.5,319.3 948,318.2 948.5,319.5 949,317.9 949.5,318 950,318.7 950.5,319 951,317.8 951.5,319.5 952,319.6 952.5,319 953,318.7 953.5,318.2 954,319.2 954.5,319.2 955,319.2 955.5,317.9 956,318.2 956.5,318.2 957,318.6 957.5,318.7 958,318.2 958.5,319.1 959,319.7 959.5,319.5 960,319.2 960.5,318.3 961,318 961.5,318.7 962,318.3 962.5,319 963,319.8 963.5,318 964,318.3 964.5,319.8 965,319.2 965.5,317.8 966,319.3 966.5,319.1 967,318.4 967.5,319.1 968,319.2 968.5,318.6 969,318.1 969.5,319.6 970,318.8 970.5,319.4 971,317.8 971.5,318.7 972,318.8 972.5,318.4 973,318.1 973.5,318 974,318.6 974.5,319.7 975,319.4 975.5,318.7 976,315.9 976.5,318.3 977,319 977.5,319.6 978,318.6 978.5,319.5 979,318.7 979.5,317.8 980,318.7 980.5,317.8 981,319.6 981.5,319.2 982,319.5 982.5,315.9 983,319.7 983.5,317.9 984,318.8 984.5,318.4 985,318.4 985.5,318 986,319 986.5,318.4 987,319.8 987.5,318.5 988,319.4 988.5,318 989,319.5 989.5,318.6 990,319.3 990.5,319.8 991,318.7 991.5,318.9 992,319.6 992.5,319.6 993,318.2 993.5,319.5 994,318.3 994.5,318.6 995,318.7 995.5,318.6 996,319.8 996.5,318.3 997,318.4 997.5,318.7 998,318 998.5,318.2 999,318.8 999.5,319.2 1000,319.6 1000.5,318.9 1001,319.3 1001.5,318.6 1002,319.4 1002.5,319.5 1003,319.7 1003,323.7 1002.5,324.6 1002,323.6 1001.5,324.7 1001,323.3 1000.5,323 1000,323.6 999.5,323 999,322.8 998.5,323.9 998,323.1 997.5,324.6 997,323.2 996.5,323.8 996,324.6 995.5,322.9 995,323.1 994.5,324 994,323.8 993.5,323.4 993,324 992.5,324.3 992,322.9 991.5,324.5 991,322.8 990.5,324.6 990,326.4 989.5,323.4 989,323.3 988.5,322.9 988,323.8 987.5,323.7 987,324.1 986.5,322.9 986,324.7 985.5,323 985,324.1 984.5,326.4 984,322.8 983.5,323.8 983,322.9 982.5,324.7 982,324.5 981.5,322.9 981,323.2 980.5,323.1 980,324.1 979.5,323.3 979,322.9 978.5,324.2 978,323.6 977.5,324.7 977,323.3 976.5,324.5 976,324.8 975.5,324.4 975,323.8 974.5,323.8 974,323.3 973.5,324.6 973,323 972.5,324.4 972,323.2 971.5,323.5 971,324 970.5,322.8 970,323.6 969.5,323.3 969,323.2 968.5,324.5 968,322.9 967.5,324.3 967,323.7 966.5,324.7 966,323.1 965.5,322.8 965,323.1 964.5,322.8 964,324.7 963.5,324.1 963,322.9 962.5,323.5 962,323 961.5,323.4 961,322.8 960.5,323.7 960,324.8 959.5,324.3 959,323.6 958.5,324.8 958,324.3 957.5,324.7 957,322.9 956.5,324.5 956,324.5 955.5,323 955,324.2 954.5,324.3 954,323.6 953.5,324.6 953,322.9 952.5,323.8 952,324.5 951.5,323.8 951,322.9 950.5,323.5 950,324.4 949.5,324 949,322.8 948.5,324.3 948,323.7 947.5,324.1 947,323.2 946.5,323.2 946,324.7 945.5,322.8 945,323.6 944.5,323 944,324.2 943.5,323.8 943,323.4 942.5,324.5 942,324.2 941.5,326.8 941,322.9 940.5,323.2 940,323.3 939.5,324.8 939,324.1 938.5,324.4 938,323 937.5,324.5 937,324.3 936.5,324.1 936,323.7 935.5,323.6 935,322.8 934.5,324.4 934,322.8 933.5,323.1 933,323 932.5,323.4 932,323.9 931.5,324.2 931,323.3 930.5,323.7 930,324.3 929.5,322.9 929,324 928.5,323.5 928,323.8 927.5,324.4 927,325.4 926.5,323.4 926,324.3 925.5,323.6 925,323.1 924.5,323.5 924,323.4 923.5,323.4 923,324.7 922.5,323.8 922,324.2 921.5,323.1 921,324.2 920.5,324.5 920,323.4 919.5,324.2 919,324.3 918.5,323.8 918,323.9 917.5,323.5 917,323 916.5,322.9 916,323.4 915.5,324.2 915,323.5 914.5,323.7 914,323.3 913.5,323.4 913,323.6 912.5,324.2 912,323.2 911.5,323 911,323.1 910.5,324.2 910,323.4 909.5,323.1 909,324 908.5,324.3 908,323.4 907.5,324.3 907,323 906.5,322.8 906,324.6 905.5,322.9 905,323.5 904.5,324 904,324 903.5,323.1 903,323 902.5,323.2 902,323 901.5,323.2 901,324.5 900.5,323 900,324 899.5,325.5 899,324.3 898.5,323.6 898,323.8 897.5,323.6 897,324.7 896.5,323.7 896,322.9 895.5,323.5 895,323.3 894.5,324.5 894,324 893.5,323.2 893,322.8 892.5,323.3 892,323.5 891.5,323.6 891,323.5 890.5,323.7 890,324.1 889.5,324.7 889,323 888.5,324 888,323.8 887.5,324.2 887,324.6 886.5,324.1 886,324.3 885.5,324.5 885,323.3 884.5,323.8 884,323.6 883.5,324.4 883,323.5 882.5,323.6 882,324.5 881.5,323.4 881,323.5 880.5,323.5 880,324.2 879.5,324.1 879,324 878.5,323.4 878,323.9 877.5,324.6 877,323.7 876.5,324.7 876,323.3 875.5,324.2 875,323.1 874.5,323.9 874,323.4 873.5,324.8 873,323.8 872.5,323.3 872,323.2 871.5,323.8 871,323 870.5,324.6 870,323 869.5,326.7 869,322.9 868.5,323.6 868,323 867.5,323.4 867,323.7 866.5,323.6 866,323.1 865.5,324 865,324.7 864.5,324.4 864,322.8 863.5,324.1 863,323.2 862.5,324.2 862,324.2 861.5,323 861,323.9 860.5,323.5 860,323.9 859.5,322.8 859,323.9 858.5,323 858,324.1 857.5,323.7 857,324.6 856.5,323.9 856,323.1 855.5,324.7 855,324.2 854.5,323.1 854,323.6 853.5,324.1 853,323.7 852.5,324.1 852,323.8 851.5,322.9 851,323.3 850.5,324 850,324 849.5,324.8 849,324 848.5,323.6 848,324.7 847.5,323.1 847,323.9 846.5,324.2 846,324 845.5,324 845,324.6 844.5,323.5 844,324.2 843.5,324.1 843,324.2 842.5,323.8 842,323.2 841.5,322.8 841,324.1 840.5,324.7 840,323.6 839.5,324.8 839,324.8 838.5,324.5 838,324.1 837.5,324.8 837,322.9 836.5,323.3 836,324.4 835.5,323.1 835,323.7 834.5,324.3 834,323.8 833.5,323.4 833,324.3 832.5,323.4 832,323.3 831.5,324.2 831,324.9 830.5,323.5 830,324.1 829.5,324.1 829,324 828.5,324.7 828,322.9 827.5,324.2 827,322.9 826.5,324.5 826,323.4 825.5,323.8 825,324.2 824.5,323.5 824,324.7 823.5,323.6 823,322.9 822.5,323.4 822,324.7 821.5,324.6 821,324.3 820.5,326.1 820,323 819.5,323.3 819,323 818.5,323.4 818,324.4 817.5,324.5 817,325.8 816.5,324.7 816,323 815.5,324.4 815,324.1 814.5,323.5 814,323.3 813.5,323.5 813,323.8 812.5,324.5 812,324.3 811.5,323.9 811,324 810.5,324.2 810,323.4 809.5,323.2 809,324.7 808.5,324.7 808,323.4 807.5,324.3 807,324.1 806.5,323.2 806,324.7 805.5,322.8 805,323 804.5,323.5 804,324.3 803.5,324 803,323.8 802.5,324.7 802,324.3 801.5,324.4 801,324.8 800.5,323.1 800,324.2 799.5,323.8 799,323.4 798.5,323.6 798,323.5 797.5,326.2 797,323.1 796.5,324.5 796,323.5 795.5,324.2 795,323.8 794.5,323.8 794,324.2 793.5,324.6 793,324.3 792.5,323.8 792,324 791.5,324.2 791,324 790.5,323 790,323.3 789.5,324.5 789,323.7 788.5,323.3 788,324.7Z" fill="#080808"/>
</g>


  <!-- channel labels -->
  <text class="slab" x="1010.3" y="119.3">S1</text>
  <text class="slab" x="1010.3" y="190.8">S2</text>
  <text class="slab" x="1010.3" y="257.2">S3</text>
  <text class="slab" x="1010.3" y="327.8">S4</text>

  <!-- time axes -->
  <path d="M540.6,349.8 V357.5 H753 M636.4,349.8 V357.5 M733,349.8 V357.5" fill="none" stroke="#0a0a0a" stroke-width="3" stroke-linejoin="miter"/>
  <path d="M789.9,349.8 V357.5 H1003 M886.3,349.8 V357.5 M982.9,349.8 V357.5" fill="none" stroke="#0a0a0a" stroke-width="3" stroke-linejoin="miter"/>
  <text class="tick" x="538.8" y="378.8">339</text>
  <text class="tick" x="633.8" y="378.8">340</text>
  <text class="tick" x="730.5" y="378.8">341</text>
  <text class="tick" x="792.6" y="378.8">2,640</text>
  <text class="tick" x="884" y="378.8">2,641</text>
  <text class="tick" x="981" y="378.8">2,642</text>
  <text class="ttl" x="714.3" y="415" style="font-size:27.6px">Time (s)</text>

  <!-- scale bar -->
  <rect x="532.8" y="313.3" width="5.6" height="20.4" fill="#17170f"/>
  <text transform="translate(520,351.5) rotate(-90)" style="font-size:25.8px">50µV</text>
</g>
</svg>
</body>
</html>
